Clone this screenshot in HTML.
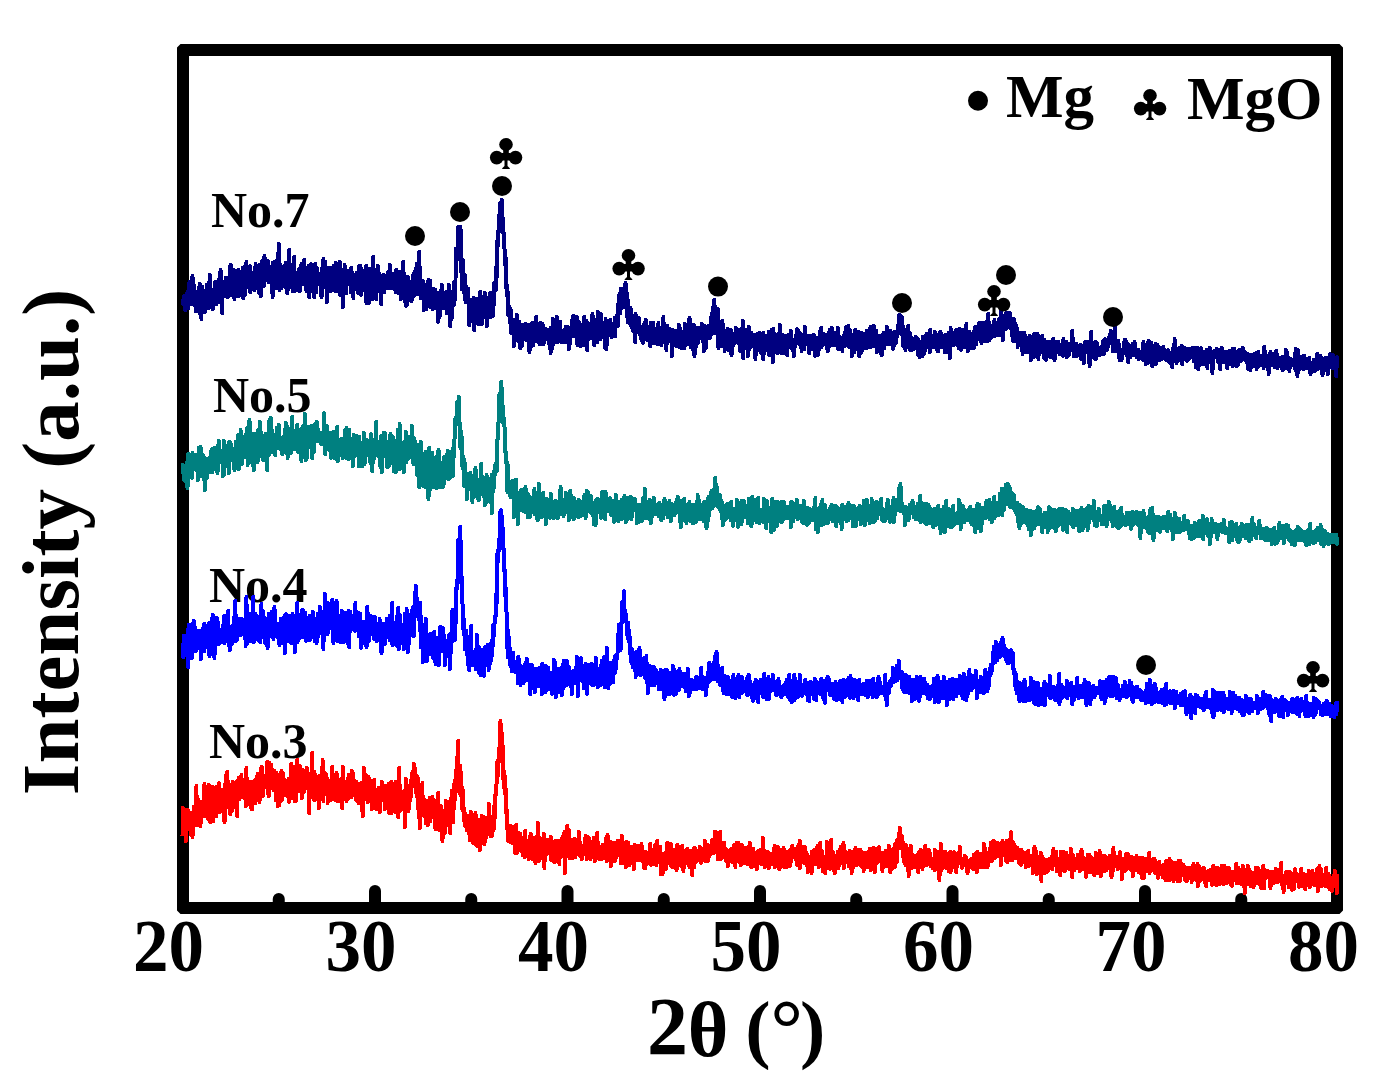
<!DOCTYPE html><html><head><meta charset="utf-8"><style>html,body{margin:0;padding:0;background:#fff;overflow:hidden}svg{display:block}</style></head><body><svg width="1398" height="1087" viewBox="0 0 1398 1087"><rect width="1398" height="1087" fill="#fff"/><text x="211" y="227" font-family="Liberation Serif" font-weight="bold" font-size="50">No.7</text><text x="213" y="412" font-family="Liberation Serif" font-weight="bold" font-size="50">No.5</text><text x="209" y="602" font-family="Liberation Serif" font-weight="bold" font-size="50">No.4</text><text x="209" y="758" font-family="Liberation Serif" font-weight="bold" font-size="50">No.3</text><path fill-rule="evenodd" fill="#000" d="M180.5,44 L1339.5,44 L1343,47.5 L1343,910.5 L1339.5,914 L180.5,914 L177,910.5 L177,47.5 Z M189,56 L189,902 L1331,902 L1331,56 Z"/><line x1="278.75" y1="905" x2="278.75" y2="899" stroke="#000" stroke-width="12" stroke-linecap="round"/><line x1="375.0" y1="905" x2="375.0" y2="891" stroke="#000" stroke-width="12" stroke-linecap="round"/><line x1="471.25" y1="905" x2="471.25" y2="899" stroke="#000" stroke-width="12" stroke-linecap="round"/><line x1="567.5" y1="905" x2="567.5" y2="891" stroke="#000" stroke-width="12" stroke-linecap="round"/><line x1="663.75" y1="905" x2="663.75" y2="899" stroke="#000" stroke-width="12" stroke-linecap="round"/><line x1="760.0" y1="905" x2="760.0" y2="891" stroke="#000" stroke-width="12" stroke-linecap="round"/><line x1="856.25" y1="905" x2="856.25" y2="899" stroke="#000" stroke-width="12" stroke-linecap="round"/><line x1="952.5" y1="905" x2="952.5" y2="891" stroke="#000" stroke-width="12" stroke-linecap="round"/><line x1="1048.75" y1="905" x2="1048.75" y2="899" stroke="#000" stroke-width="12" stroke-linecap="round"/><line x1="1145.0" y1="905" x2="1145.0" y2="891" stroke="#000" stroke-width="12" stroke-linecap="round"/><line x1="1241.25" y1="905" x2="1241.25" y2="899" stroke="#000" stroke-width="12" stroke-linecap="round"/><polyline points="182.5,303 182.9,304 183.3,301 183.7,297 184.0,300 184.4,296 184.8,302 185.2,310 185.6,299 186.0,298 186.3,305 186.7,304 187.1,303 187.5,292 187.9,301 188.3,308 188.7,288 189.0,297 189.4,282 189.8,288 190.2,283 190.6,299 191.0,288 191.4,304 191.7,303 192.1,299 192.5,276 192.9,295 193.3,300 193.7,302 194.0,285 194.4,296 194.8,291 195.2,292 195.6,311 196.0,292 196.4,300 196.7,309 197.1,294 197.5,299 197.9,301 198.3,301 198.7,288 199.1,300 199.4,313 199.8,284 200.2,308 200.6,301 201.0,293 201.4,319 201.7,306 202.1,287 202.5,299 202.9,304 203.3,296 203.7,305 204.1,297 204.4,304 204.8,312 205.2,291 205.6,299 206.0,292 206.4,298 206.8,285 207.1,291 207.5,294 207.9,305 208.3,308 208.7,283 209.1,288 209.4,302 209.8,275 210.2,291 210.6,294 211.0,307 211.4,302 211.8,291 212.1,291 212.5,292 212.9,309 213.3,290 213.7,291 214.1,297 214.5,292 214.8,291 215.2,282 215.6,293 216.0,288 216.4,304 216.8,299 217.1,292 217.5,299 217.9,289 218.3,302 218.7,292 219.1,297 219.5,278 219.8,295 220.2,274 220.6,270 221.0,288 221.4,281 221.8,292 222.2,313 222.5,282 222.9,284 223.3,292 223.7,294 224.1,288 224.5,287 224.8,296 225.2,294 225.6,278 226.0,288 226.4,289 226.8,278 227.2,291 227.5,279 227.9,297 228.3,289 228.7,288 229.1,281 229.5,286 229.9,267 230.2,275 230.6,290 231.0,265 231.4,295 231.8,269 232.2,293 232.5,277 232.9,293 233.3,287 233.7,270 234.1,298 234.5,299 234.9,284 235.2,282 235.6,283 236.0,274 236.4,295 236.8,278 237.2,283 237.6,276 237.9,277 238.3,270 238.7,296 239.1,281 239.5,292 239.9,283 240.2,275 240.6,279 241.0,276 241.4,282 241.8,278 242.2,279 242.6,268 242.9,273 243.3,298 243.7,274 244.1,270 244.5,284 244.9,295 245.3,266 245.6,278 246.0,274 246.4,262 246.8,287 247.2,279 247.6,280 247.9,272 248.3,284 248.7,273 249.1,277 249.5,267 249.9,266 250.3,292 250.6,273 251.0,281 251.4,278 251.8,274 252.2,273 252.6,284 253.0,275 253.3,277 253.7,278 254.1,290 254.5,285 254.9,282 255.3,272 255.6,264 256.0,287 256.4,288 256.8,276 257.2,283 257.6,286 258.0,286 258.3,287 258.7,273 259.1,293 259.5,265 259.9,286 260.3,283 260.7,286 261.0,296 261.4,292 261.8,266 262.2,261 262.6,286 263.0,267 263.3,277 263.7,286 264.1,261 264.5,256 264.9,280 265.3,278 265.7,275 266.0,278 266.4,269 266.8,262 267.2,275 267.6,267 268.0,261 268.4,282 268.7,276 269.1,281 269.5,267 269.9,270 270.3,267 270.7,268 271.0,279 271.4,269 271.8,280 272.2,280 272.6,297 273.0,263 273.4,286 273.7,276 274.1,277 274.5,262 274.9,272 275.3,284 275.7,276 276.1,277 276.4,274 276.8,288 277.2,276 277.6,254 278.0,269 278.4,257 278.7,244 279.1,271 279.5,290 279.9,277 280.3,265 280.7,267 281.1,288 281.4,278 281.8,277 282.2,276 282.6,276 283.0,284 283.4,282 283.8,278 284.1,266 284.5,281 284.9,269 285.3,287 285.7,263 286.1,274 286.4,276 286.8,263 287.2,293 287.6,290 288.0,271 288.4,283 288.8,279 289.1,250 289.5,278 289.9,275 290.3,276 290.7,265 291.1,273 291.5,274 291.8,287 292.2,279 292.6,275 293.0,291 293.4,270 293.8,271 294.1,257 294.5,291 294.9,285 295.3,284 295.7,282 296.1,276 296.5,277 296.8,273 297.2,273 297.6,276 298.0,290 298.4,281 298.8,274 299.2,269 299.5,269 299.9,291 300.3,280 300.7,276 301.1,272 301.5,264 301.8,275 302.2,284 302.6,271 303.0,273 303.4,273 303.8,277 304.2,260 304.5,273 304.9,267 305.3,285 305.7,268 306.1,282 306.5,291 306.9,273 307.2,270 307.6,278 308.0,276 308.4,266 308.8,281 309.2,297 309.5,274 309.9,274 310.3,266 310.7,280 311.1,264 311.5,266 311.9,290 312.2,268 312.6,288 313.0,292 313.4,280 313.8,283 314.2,297 314.6,275 314.9,271 315.3,264 315.7,278 316.1,292 316.5,287 316.9,268 317.2,269 317.6,273 318.0,281 318.4,276 318.8,280 319.2,281 319.6,275 319.9,278 320.3,280 320.7,277 321.1,283 321.5,297 321.9,284 322.3,279 322.6,262 323.0,282 323.4,259 323.8,265 324.2,287 324.6,286 324.9,277 325.3,262 325.7,275 326.1,272 326.5,285 326.9,302 327.3,281 327.6,272 328.0,268 328.4,279 328.8,278 329.2,268 329.6,281 330.0,268 330.3,291 330.7,290 331.1,291 331.5,275 331.9,285 332.3,279 332.6,276 333.0,277 333.4,267 333.8,266 334.2,288 334.6,278 335.0,283 335.3,291 335.7,263 336.1,273 336.5,282 336.9,285 337.3,277 337.7,291 338.0,283 338.4,269 338.8,272 339.2,289 339.6,286 340.0,262 340.3,295 340.7,287 341.1,295 341.5,278 341.9,279 342.3,270 342.7,307 343.0,280 343.4,298 343.8,275 344.2,284 344.6,265 345.0,278 345.4,292 345.7,270 346.1,293 346.5,286 346.9,272 347.3,277 347.7,278 348.0,282 348.4,277 348.8,274 349.2,280 349.6,272 350.0,270 350.4,282 350.7,292 351.1,268 351.5,283 351.9,276 352.3,273 352.7,292 353.1,278 353.4,298 353.8,275 354.2,287 354.6,281 355.0,276 355.4,289 355.7,282 356.1,289 356.5,283 356.9,273 357.3,282 357.7,284 358.1,293 358.4,274 358.8,283 359.2,266 359.6,290 360.0,273 360.4,266 360.8,283 361.1,295 361.5,269 361.9,273 362.3,276 362.7,273 363.1,288 363.4,276 363.8,277 364.2,290 364.6,276 365.0,288 365.4,274 365.8,272 366.1,266 366.5,303 366.9,281 367.3,287 367.7,284 368.1,286 368.5,285 368.8,303 369.2,274 369.6,269 370.0,274 370.4,271 370.8,292 371.1,293 371.5,275 371.9,271 372.3,281 372.7,299 373.1,257 373.5,290 373.8,274 374.2,295 374.6,274 375.0,282 375.4,270 375.8,275 376.2,299 376.5,293 376.9,281 377.3,276 377.7,266 378.1,281 378.5,285 378.8,284 379.2,284 379.6,274 380.0,285 380.4,285 380.8,298 381.2,304 381.5,284 381.9,278 382.3,285 382.7,279 383.1,278 383.5,285 383.9,275 384.2,292 384.6,285 385.0,288 385.4,284 385.8,278 386.2,276 386.5,283 386.9,280 387.3,288 387.7,286 388.1,272 388.5,287 388.9,273 389.2,280 389.6,283 390.0,265 390.4,287 390.8,288 391.2,285 391.6,282 391.9,283 392.3,277 392.7,284 393.1,281 393.5,287 393.9,274 394.2,289 394.6,288 395.0,285 395.4,282 395.8,292 396.2,270 396.6,291 396.9,289 397.3,289 397.7,291 398.1,280 398.5,284 398.9,293 399.3,291 399.6,289 400.0,272 400.4,292 400.8,299 401.2,297 401.6,290 401.9,272 402.3,297 402.7,286 403.1,262 403.5,292 403.9,273 404.3,275 404.6,282 405.0,301 405.4,285 405.8,291 406.2,306 406.6,305 407.0,288 407.3,287 407.7,277 408.1,282 408.5,294 408.9,293 409.3,291 409.6,300 410.0,282 410.4,289 410.8,297 411.2,296 411.6,301 412.0,294 412.3,287 412.7,294 413.1,280 413.5,274 413.9,296 414.3,289 414.7,292 415.0,272 415.4,285 415.8,282 416.2,279 416.6,264 417.0,282 417.3,294 417.7,288 418.1,277 418.5,281 418.9,288 419.3,252 419.7,278 420.0,285 420.4,287 420.8,298 421.2,293 421.6,286 422.0,287 422.4,293 422.7,281 423.1,288 423.5,298 423.9,310 424.3,289 424.7,291 425.0,294 425.4,306 425.8,293 426.2,309 426.6,285 427.0,293 427.4,293 427.7,303 428.1,306 428.5,280 428.9,286 429.3,299 429.7,289 430.1,281 430.4,307 430.8,302 431.2,302 431.6,292 432.0,307 432.4,295 432.7,309 433.1,289 433.5,289 433.9,300 434.3,291 434.7,305 435.1,301 435.4,290 435.8,300 436.2,296 436.6,308 437.0,293 437.4,295 437.8,312 438.1,322 438.5,320 438.9,301 439.3,303 439.7,316 440.1,299 440.4,291 440.8,302 441.2,306 441.6,293 442.0,285 442.4,287 442.8,308 443.1,294 443.5,300 443.9,304 444.3,308 444.7,299 445.1,307 445.5,293 445.8,298 446.2,292 446.6,313 447.0,302 447.4,294 447.8,298 448.1,299 448.5,309 448.9,285 449.3,291 449.7,297 450.1,326 450.5,310 450.8,298 451.2,306 451.6,319 452.0,295 452.4,292 452.8,306 453.2,297 453.5,297 453.9,283 454.3,304 454.7,299 455.1,284 455.5,281 455.8,249 456.2,271 456.6,258 457.0,260 457.4,258 457.8,244 458.2,227 458.5,246 458.9,234 459.3,238 459.7,237 460.1,243 460.5,227 460.9,267 461.2,262 461.6,276 462.0,289 462.4,274 462.8,260 463.2,273 463.5,274 463.9,284 464.3,293 464.7,275 465.1,300 465.5,284 465.9,302 466.2,300 466.6,299 467.0,302 467.4,298 467.8,298 468.2,289 468.6,305 468.9,323 469.3,325 469.7,319 470.1,313 470.5,300 470.9,321 471.2,307 471.6,307 472.0,305 472.4,309 472.8,304 473.2,307 473.6,298 473.9,305 474.3,330 474.7,308 475.1,307 475.5,314 475.9,316 476.3,299 476.6,307 477.0,318 477.4,312 477.8,311 478.2,324 478.6,303 478.9,311 479.3,305 479.7,324 480.1,292 480.5,304 480.9,306 481.3,317 481.6,316 482.0,324 482.4,297 482.8,318 483.2,309 483.6,305 484.0,316 484.3,303 484.7,293 485.1,308 485.5,298 485.9,306 486.3,315 486.6,315 487.0,326 487.4,310 487.8,298 488.2,305 488.6,303 489.0,301 489.3,315 489.7,305 490.1,293 490.5,317 490.9,309 491.3,312 491.7,309 492.0,313 492.4,307 492.8,316 493.2,307 493.6,305 494.0,303 494.3,283 494.7,291 495.1,287 495.5,287 495.9,268 496.3,289 496.7,269 497.0,251 497.4,240 497.8,246 498.2,240 498.6,227 499.0,228 499.4,214 499.7,220 500.1,203 500.5,207 500.9,215 501.3,231 501.7,200 502.0,209 502.4,211 502.8,232 503.2,222 503.6,235 504.0,247 504.4,246 504.7,254 505.1,265 505.5,257 505.9,269 506.3,284 506.7,294 507.1,296 507.4,286 507.8,301 508.2,315 508.6,315 509.0,312 509.4,307 509.7,322 510.1,313 510.5,309 510.9,313 511.3,333 511.7,324 512.1,332 512.4,320 512.8,332 513.2,320 513.6,324 514.0,346 514.4,333 514.8,323 515.1,326 515.5,330 515.9,338 516.3,324 516.7,315 517.1,327 517.4,330 517.8,331 518.2,341 518.6,333 519.0,337 519.4,322 519.8,338 520.1,348 520.5,338 520.9,334 521.3,333 521.7,346 522.1,325 522.5,331 522.8,336 523.2,338 523.6,329 524.0,335 524.4,330 524.8,334 525.1,332 525.5,324 525.9,333 526.3,340 526.7,325 527.1,331 527.5,338 527.8,325 528.2,335 528.6,325 529.0,342 529.4,352 529.8,349 530.2,332 530.5,339 530.9,334 531.3,334 531.7,346 532.1,323 532.5,342 532.8,333 533.2,345 533.6,335 534.0,328 534.4,336 534.8,340 535.2,334 535.5,338 535.9,330 536.3,317 536.7,341 537.1,340 537.5,335 537.9,335 538.2,342 538.6,331 539.0,329 539.4,333 539.8,344 540.2,323 540.5,344 540.9,329 541.3,326 541.7,344 542.1,334 542.5,324 542.9,332 543.2,342 543.6,344 544.0,331 544.4,338 544.8,340 545.2,329 545.6,337 545.9,334 546.3,330 546.7,331 547.1,335 547.5,335 547.9,330 548.2,331 548.6,343 549.0,336 549.4,342 549.8,344 550.2,339 550.6,353 550.9,328 551.3,341 551.7,332 552.1,349 552.5,348 552.9,319 553.3,327 553.6,340 554.0,341 554.4,340 554.8,334 555.2,338 555.6,339 555.9,334 556.3,342 556.7,317 557.1,339 557.5,326 557.9,342 558.3,332 558.6,327 559.0,337 559.4,327 559.8,327 560.2,322 560.6,334 561.0,338 561.3,342 561.7,333 562.1,342 562.5,334 562.9,333 563.3,338 563.6,342 564.0,331 564.4,332 564.8,332 565.2,334 565.6,327 566.0,342 566.3,330 566.7,337 567.1,327 567.5,336 567.9,336 568.3,330 568.7,349 569.0,336 569.4,347 569.8,341 570.2,328 570.6,330 571.0,337 571.3,334 571.7,334 572.1,331 572.5,319 572.9,331 573.3,316 573.7,336 574.0,327 574.4,327 574.8,331 575.2,335 575.6,322 576.0,319 576.4,325 576.7,317 577.1,325 577.5,345 577.9,325 578.3,338 578.7,322 579.0,335 579.4,330 579.8,332 580.2,337 580.6,346 581.0,334 581.4,333 581.7,325 582.1,337 582.5,330 582.9,339 583.3,332 583.7,345 584.1,317 584.4,330 584.8,339 585.2,329 585.6,326 586.0,330 586.4,321 586.7,333 587.1,350 587.5,341 587.9,323 588.3,325 588.7,329 589.1,339 589.4,325 589.8,326 590.2,338 590.6,338 591.0,329 591.4,323 591.8,320 592.1,326 592.5,314 592.9,337 593.3,326 593.7,335 594.1,345 594.4,340 594.8,322 595.2,338 595.6,340 596.0,325 596.4,324 596.8,330 597.1,319 597.5,342 597.9,312 598.3,322 598.7,329 599.1,329 599.5,332 599.8,332 600.2,329 600.6,339 601.0,314 601.4,330 601.8,325 602.1,331 602.5,332 602.9,323 603.3,325 603.7,336 604.1,333 604.5,325 604.8,346 605.2,348 605.6,319 606.0,332 606.4,349 606.8,336 607.2,332 607.5,328 607.9,326 608.3,328 608.7,326 609.1,335 609.5,327 609.8,326 610.2,320 610.6,329 611.0,323 611.4,328 611.8,337 612.2,332 612.5,332 612.9,331 613.3,329 613.7,327 614.1,325 614.5,333 614.9,318 615.2,336 615.6,325 616.0,318 616.4,319 616.8,317 617.2,322 617.5,314 617.9,326 618.3,310 618.7,297 619.1,306 619.5,294 619.9,307 620.2,313 620.6,307 621.0,289 621.4,291 621.8,308 622.2,295 622.6,290 622.9,297 623.3,307 623.7,297 624.1,288 624.5,290 624.9,293 625.2,285 625.6,283 626.0,294 626.4,289 626.8,298 627.2,302 627.6,322 627.9,300 628.3,308 628.7,310 629.1,317 629.5,323 629.9,314 630.3,313 630.6,308 631.0,315 631.4,327 631.8,325 632.2,318 632.6,324 632.9,327 633.3,331 633.7,324 634.1,327 634.5,316 634.9,321 635.3,342 635.6,314 636.0,328 636.4,332 636.8,328 637.2,325 637.6,331 638.0,331 638.3,331 638.7,318 639.1,331 639.5,325 639.9,328 640.3,334 640.6,337 641.0,339 641.4,329 641.8,339 642.2,341 642.6,341 643.0,343 643.3,332 643.7,331 644.1,339 644.5,323 644.9,334 645.3,329 645.7,330 646.0,320 646.4,327 646.8,333 647.2,340 647.6,340 648.0,333 648.3,332 648.7,327 649.1,336 649.5,332 649.9,338 650.3,346 650.7,333 651.0,323 651.4,327 651.8,323 652.2,325 652.6,343 653.0,335 653.4,323 653.7,339 654.1,343 654.5,331 654.9,329 655.3,332 655.7,336 656.0,339 656.4,343 656.8,343 657.2,343 657.6,344 658.0,339 658.4,323 658.7,333 659.1,337 659.5,332 659.9,341 660.3,332 660.7,328 661.1,345 661.4,339 661.8,336 662.2,341 662.6,342 663.0,337 663.4,317 663.7,330 664.1,331 664.5,328 664.9,336 665.3,343 665.7,331 666.1,327 666.4,350 666.8,332 667.2,326 667.6,337 668.0,338 668.4,330 668.8,341 669.1,332 669.5,329 669.9,336 670.3,341 670.7,331 671.1,338 671.4,335 671.8,356 672.2,330 672.6,345 673.0,335 673.4,334 673.8,341 674.1,342 674.5,345 674.9,338 675.3,331 675.7,332 676.1,339 676.5,340 676.8,346 677.2,339 677.6,343 678.0,346 678.4,337 678.8,325 679.1,327 679.5,326 679.9,347 680.3,330 680.7,345 681.1,340 681.5,348 681.8,343 682.2,335 682.6,335 683.0,337 683.4,337 683.8,332 684.2,336 684.5,348 684.9,324 685.3,338 685.7,330 686.1,338 686.5,342 686.8,336 687.2,342 687.6,325 688.0,344 688.4,332 688.8,341 689.2,338 689.5,318 689.9,331 690.3,338 690.7,347 691.1,338 691.5,338 691.9,327 692.2,347 692.6,349 693.0,337 693.4,335 693.8,325 694.2,343 694.5,356 694.9,342 695.3,346 695.7,340 696.1,330 696.5,346 696.9,328 697.2,335 697.6,339 698.0,343 698.4,340 698.8,339 699.2,331 699.6,328 699.9,337 700.3,332 700.7,328 701.1,328 701.5,333 701.9,324 702.2,327 702.6,325 703.0,338 703.4,340 703.8,351 704.2,326 704.6,332 704.9,343 705.3,335 705.7,334 706.1,348 706.5,334 706.9,328 707.3,327 707.6,338 708.0,338 708.4,326 708.8,328 709.2,338 709.6,338 709.9,329 710.3,337 710.7,335 711.1,317 711.5,326 711.9,330 712.3,321 712.6,308 713.0,319 713.4,324 713.8,328 714.2,300 714.6,333 715.0,306 715.3,321 715.7,324 716.1,324 716.5,320 716.9,312 717.3,327 717.6,320 718.0,309 718.4,348 718.8,335 719.2,344 719.6,326 720.0,344 720.3,345 720.7,346 721.1,335 721.5,328 721.9,335 722.3,321 722.7,325 723.0,338 723.4,331 723.8,336 724.2,337 724.6,351 725.0,347 725.3,338 725.7,346 726.1,333 726.5,336 726.9,345 727.3,330 727.7,336 728.0,329 728.4,339 728.8,350 729.2,333 729.6,340 730.0,333 730.4,331 730.7,330 731.1,349 731.5,355 731.9,342 732.3,334 732.7,344 733.0,337 733.4,345 733.8,341 734.2,341 734.6,343 735.0,335 735.4,336 735.7,328 736.1,336 736.5,330 736.9,338 737.3,333 737.7,340 738.1,343 738.4,330 738.8,334 739.2,333 739.6,345 740.0,351 740.4,345 740.7,337 741.1,350 741.5,329 741.9,350 742.3,335 742.7,321 743.1,358 743.4,351 743.8,333 744.2,341 744.6,339 745.0,341 745.4,330 745.8,335 746.1,343 746.5,342 746.9,348 747.3,341 747.7,356 748.1,335 748.4,342 748.8,327 749.2,332 749.6,349 750.0,334 750.4,344 750.8,340 751.1,333 751.5,338 751.9,337 752.3,337 752.7,346 753.1,345 753.5,337 753.8,335 754.2,343 754.6,340 755.0,348 755.4,359 755.8,346 756.1,341 756.5,340 756.9,335 757.3,335 757.7,334 758.1,338 758.5,338 758.8,346 759.2,338 759.6,340 760.0,333 760.4,352 760.8,344 761.2,353 761.5,346 761.9,351 762.3,340 762.7,346 763.1,359 763.5,333 763.8,349 764.2,353 764.6,344 765.0,346 765.4,350 765.8,337 766.2,344 766.5,336 766.9,337 767.3,337 767.7,341 768.1,343 768.5,345 768.9,332 769.2,355 769.6,350 770.0,347 770.4,339 770.8,341 771.2,345 771.5,345 771.9,330 772.3,347 772.7,362 773.1,329 773.5,349 773.9,344 774.2,341 774.6,351 775.0,334 775.4,343 775.8,352 776.2,341 776.6,339 776.9,343 777.3,339 777.7,353 778.1,336 778.5,348 778.9,334 779.2,347 779.6,342 780.0,325 780.4,342 780.8,335 781.2,339 781.6,353 781.9,335 782.3,335 782.7,352 783.1,343 783.5,353 783.9,344 784.3,336 784.6,342 785.0,351 785.4,349 785.8,342 786.2,343 786.6,341 786.9,338 787.3,355 787.7,342 788.1,335 788.5,339 788.9,347 789.3,347 789.6,341 790.0,338 790.4,342 790.8,331 791.2,333 791.6,348 792.0,339 792.3,345 792.7,350 793.1,346 793.5,342 793.9,356 794.3,347 794.6,340 795.0,347 795.4,345 795.8,336 796.2,343 796.6,341 797.0,329 797.3,341 797.7,340 798.1,339 798.5,331 798.9,340 799.3,342 799.7,343 800.0,334 800.4,346 800.8,334 801.2,341 801.6,351 802.0,337 802.3,339 802.7,349 803.1,339 803.5,340 803.9,343 804.3,349 804.7,327 805.0,336 805.4,335 805.8,335 806.2,336 806.6,336 807.0,344 807.4,336 807.7,343 808.1,345 808.5,337 808.9,343 809.3,353 809.7,344 810.0,338 810.4,341 810.8,336 811.2,344 811.6,348 812.0,336 812.4,340 812.7,349 813.1,339 813.5,343 813.9,335 814.3,336 814.7,338 815.1,356 815.4,339 815.8,338 816.2,338 816.6,341 817.0,346 817.4,343 817.7,355 818.1,343 818.5,351 818.9,344 819.3,346 819.7,332 820.1,341 820.4,341 820.8,340 821.2,328 821.6,347 822.0,339 822.4,339 822.8,340 823.1,340 823.5,344 823.9,334 824.3,336 824.7,344 825.1,343 825.4,339 825.8,338 826.2,336 826.6,341 827.0,349 827.4,335 827.8,351 828.1,347 828.5,339 828.9,347 829.3,332 829.7,330 830.1,333 830.5,339 830.8,339 831.2,338 831.6,342 832.0,328 832.4,345 832.8,332 833.1,337 833.5,339 833.9,334 834.3,333 834.7,335 835.1,341 835.5,345 835.8,345 836.2,335 836.6,336 837.0,336 837.4,344 837.8,328 838.2,349 838.5,338 838.9,336 839.3,344 839.7,348 840.1,344 840.5,348 840.8,342 841.2,349 841.6,349 842.0,341 842.4,351 842.8,342 843.2,342 843.5,336 843.9,340 844.3,346 844.7,333 845.1,346 845.5,344 845.9,343 846.2,327 846.6,341 847.0,345 847.4,336 847.8,342 848.2,326 848.5,346 848.9,337 849.3,347 849.7,330 850.1,346 850.5,340 850.9,346 851.2,335 851.6,337 852.0,356 852.4,336 852.8,337 853.2,339 853.6,335 853.9,349 854.3,352 854.7,337 855.1,330 855.5,349 855.9,348 856.2,346 856.6,349 857.0,336 857.4,340 857.8,332 858.2,332 858.6,347 858.9,337 859.3,356 859.7,342 860.1,337 860.5,346 860.9,353 861.3,344 861.6,333 862.0,343 862.4,350 862.8,338 863.2,336 863.6,348 863.9,342 864.3,334 864.7,339 865.1,336 865.5,343 865.9,342 866.3,348 866.6,346 867.0,331 867.4,344 867.8,347 868.2,344 868.6,347 869.0,337 869.3,335 869.7,347 870.1,334 870.5,327 870.9,347 871.3,336 871.6,339 872.0,332 872.4,333 872.8,334 873.2,339 873.6,343 874.0,326 874.3,346 874.7,333 875.1,334 875.5,345 875.9,340 876.3,331 876.7,352 877.0,335 877.4,342 877.8,342 878.2,350 878.6,338 879.0,347 879.3,336 879.7,348 880.1,336 880.5,338 880.9,353 881.3,343 881.7,341 882.0,355 882.4,343 882.8,335 883.2,345 883.6,333 884.0,348 884.4,348 884.7,337 885.1,337 885.5,342 885.9,340 886.3,334 886.7,344 887.0,327 887.4,338 887.8,338 888.2,338 888.6,342 889.0,332 889.4,344 889.7,339 890.1,336 890.5,331 890.9,332 891.3,342 891.7,334 892.1,340 892.4,346 892.8,346 893.2,349 893.6,337 894.0,332 894.4,345 894.7,340 895.1,344 895.5,336 895.9,343 896.3,339 896.7,337 897.1,334 897.4,331 897.8,328 898.2,325 898.6,327 899.0,315 899.4,328 899.8,315 900.1,322 900.5,316 900.9,317 901.3,334 901.7,321 902.1,317 902.4,324 902.8,328 903.2,346 903.6,335 904.0,341 904.4,330 904.8,340 905.1,342 905.5,350 905.9,335 906.3,343 906.7,342 907.1,334 907.5,340 907.8,339 908.2,326 908.6,344 909.0,344 909.4,338 909.8,333 910.1,350 910.5,343 910.9,348 911.3,350 911.7,338 912.1,347 912.5,340 912.8,341 913.2,341 913.6,342 914.0,349 914.4,343 914.8,341 915.2,341 915.5,344 915.9,337 916.3,339 916.7,342 917.1,339 917.5,342 917.8,339 918.2,355 918.6,351 919.0,346 919.4,343 919.8,357 920.2,345 920.5,342 920.9,345 921.3,345 921.7,352 922.1,343 922.5,356 922.9,337 923.2,347 923.6,337 924.0,354 924.4,341 924.8,342 925.2,348 925.5,350 925.9,336 926.3,340 926.7,334 927.1,343 927.5,342 927.9,340 928.2,338 928.6,340 929.0,338 929.4,346 929.8,352 930.2,330 930.6,342 930.9,340 931.3,345 931.7,336 932.1,341 932.5,336 932.9,347 933.2,343 933.6,341 934.0,344 934.4,341 934.8,332 935.2,346 935.6,344 935.9,341 936.3,348 936.7,349 937.1,335 937.5,337 937.9,351 938.3,351 938.6,337 939.0,335 939.4,338 939.8,339 940.2,332 940.6,342 940.9,334 941.3,334 941.7,347 942.1,337 942.5,341 942.9,345 943.3,346 943.6,339 944.0,342 944.4,336 944.8,352 945.2,345 945.6,335 946.0,341 946.3,346 946.7,344 947.1,352 947.5,350 947.9,338 948.3,341 948.6,333 949.0,343 949.4,342 949.8,358 950.2,341 950.6,328 951.0,337 951.3,341 951.7,333 952.1,335 952.5,338 952.9,343 953.3,340 953.7,335 954.0,345 954.4,337 954.8,337 955.2,332 955.6,336 956.0,344 956.3,330 956.7,340 957.1,345 957.5,338 957.9,342 958.3,333 958.7,348 959.0,347 959.4,341 959.8,329 960.2,333 960.6,346 961.0,350 961.4,342 961.7,347 962.1,336 962.5,338 962.9,340 963.3,342 963.7,330 964.0,345 964.4,347 964.8,332 965.2,331 965.6,341 966.0,335 966.4,324 966.7,344 967.1,340 967.5,336 967.9,351 968.3,339 968.7,334 969.1,339 969.4,332 969.8,333 970.2,340 970.6,334 971.0,335 971.4,348 971.7,343 972.1,342 972.5,340 972.9,340 973.3,346 973.7,336 974.1,348 974.4,330 974.8,334 975.2,327 975.6,333 976.0,338 976.4,344 976.8,331 977.1,335 977.5,332 977.9,329 978.3,326 978.7,334 979.1,323 979.4,334 979.8,333 980.2,328 980.6,326 981.0,323 981.4,343 981.8,323 982.1,341 982.5,335 982.9,328 983.3,323 983.7,337 984.1,341 984.5,324 984.8,328 985.2,336 985.6,331 986.0,341 986.4,325 986.8,332 987.1,321 987.5,341 987.9,323 988.3,314 988.7,327 989.1,327 989.5,340 989.8,326 990.2,328 990.6,331 991.0,338 991.4,327 991.8,334 992.2,331 992.5,326 992.9,329 993.3,329 993.7,323 994.1,336 994.5,320 994.8,336 995.2,335 995.6,329 996.0,324 996.4,328 996.8,332 997.2,334 997.5,331 997.9,335 998.3,326 998.7,330 999.1,319 999.5,333 999.9,329 1000.2,325 1000.6,335 1001.0,332 1001.4,309 1001.8,327 1002.2,317 1002.5,332 1002.9,340 1003.3,321 1003.7,324 1004.1,321 1004.5,324 1004.9,325 1005.2,329 1005.6,314 1006.0,329 1006.4,313 1006.8,320 1007.2,326 1007.6,323 1007.9,313 1008.3,314 1008.7,316 1009.1,319 1009.5,327 1009.9,313 1010.2,325 1010.6,327 1011.0,327 1011.4,328 1011.8,335 1012.2,330 1012.6,333 1012.9,332 1013.3,341 1013.7,319 1014.1,340 1014.5,331 1014.9,332 1015.3,329 1015.6,324 1016.0,334 1016.4,332 1016.8,340 1017.2,329 1017.6,347 1017.9,341 1018.3,338 1018.7,336 1019.1,335 1019.5,334 1019.9,338 1020.3,341 1020.6,340 1021.0,333 1021.4,340 1021.8,337 1022.2,343 1022.6,354 1023.0,346 1023.3,341 1023.7,333 1024.1,335 1024.5,333 1024.9,348 1025.3,339 1025.6,344 1026.0,340 1026.4,344 1026.8,352 1027.2,340 1027.6,342 1028.0,339 1028.3,349 1028.7,338 1029.1,338 1029.5,336 1029.9,336 1030.3,347 1030.7,360 1031.0,339 1031.4,351 1031.8,347 1032.2,339 1032.6,344 1033.0,344 1033.3,341 1033.7,357 1034.1,334 1034.5,348 1034.9,348 1035.3,342 1035.7,347 1036.0,351 1036.4,347 1036.8,348 1037.2,350 1037.6,334 1038.0,355 1038.4,359 1038.7,352 1039.1,352 1039.5,338 1039.9,346 1040.3,342 1040.7,343 1041.0,352 1041.4,342 1041.8,346 1042.2,336 1042.6,346 1043.0,347 1043.4,343 1043.7,343 1044.1,358 1044.5,340 1044.9,341 1045.3,343 1045.7,354 1046.1,360 1046.4,349 1046.8,343 1047.2,345 1047.6,354 1048.0,342 1048.4,356 1048.7,356 1049.1,348 1049.5,352 1049.9,352 1050.3,357 1050.7,342 1051.1,355 1051.4,346 1051.8,344 1052.2,349 1052.6,347 1053.0,342 1053.4,339 1053.8,343 1054.1,357 1054.5,360 1054.9,352 1055.3,355 1055.7,345 1056.1,348 1056.4,350 1056.8,342 1057.2,343 1057.6,349 1058.0,347 1058.4,342 1058.8,351 1059.1,347 1059.5,354 1059.9,349 1060.3,347 1060.7,349 1061.1,348 1061.5,345 1061.8,346 1062.2,353 1062.6,352 1063.0,356 1063.4,339 1063.8,347 1064.1,346 1064.5,350 1064.9,346 1065.3,346 1065.7,353 1066.1,350 1066.5,342 1066.8,357 1067.2,355 1067.6,346 1068.0,354 1068.4,345 1068.8,355 1069.2,348 1069.5,344 1069.9,347 1070.3,345 1070.7,350 1071.1,350 1071.5,349 1071.8,346 1072.2,331 1072.6,350 1073.0,338 1073.4,351 1073.8,356 1074.2,351 1074.5,347 1074.9,348 1075.3,349 1075.7,346 1076.1,346 1076.5,344 1076.9,356 1077.2,349 1077.6,355 1078.0,348 1078.4,350 1078.8,349 1079.2,352 1079.5,354 1079.9,351 1080.3,346 1080.7,345 1081.1,359 1081.5,348 1081.9,348 1082.2,358 1082.6,356 1083.0,353 1083.4,347 1083.8,363 1084.2,352 1084.6,353 1084.9,349 1085.3,342 1085.7,342 1086.1,352 1086.5,352 1086.9,349 1087.2,343 1087.6,342 1088.0,348 1088.4,342 1088.8,355 1089.2,356 1089.6,366 1089.9,355 1090.3,347 1090.7,345 1091.1,332 1091.5,347 1091.9,349 1092.3,355 1092.6,353 1093.0,353 1093.4,351 1093.8,354 1094.2,358 1094.6,344 1094.9,348 1095.3,342 1095.7,359 1096.1,357 1096.5,354 1096.9,343 1097.3,351 1097.6,349 1098.0,350 1098.4,349 1098.8,353 1099.2,348 1099.6,355 1100.0,351 1100.3,348 1100.7,349 1101.1,347 1101.5,354 1101.9,348 1102.3,351 1102.6,347 1103.0,341 1103.4,354 1103.8,343 1104.2,353 1104.6,351 1105.0,339 1105.3,343 1105.7,345 1106.1,342 1106.5,340 1106.9,350 1107.3,344 1107.7,347 1108.0,341 1108.4,344 1108.8,338 1109.2,341 1109.6,343 1110.0,339 1110.3,336 1110.7,331 1111.1,338 1111.5,338 1111.9,335 1112.3,332 1112.7,340 1113.0,351 1113.4,336 1113.8,341 1114.2,342 1114.6,326 1115.0,342 1115.4,339 1115.7,351 1116.1,343 1116.5,341 1116.9,345 1117.3,348 1117.7,344 1118.0,348 1118.4,341 1118.8,348 1119.2,353 1119.6,360 1120.0,354 1120.4,351 1120.7,357 1121.1,356 1121.5,360 1121.9,357 1122.3,350 1122.7,352 1123.1,352 1123.4,353 1123.8,352 1124.2,347 1124.6,340 1125.0,348 1125.4,340 1125.7,352 1126.1,351 1126.5,342 1126.9,355 1127.3,356 1127.7,352 1128.1,361 1128.4,362 1128.8,345 1129.2,357 1129.6,354 1130.0,354 1130.4,357 1130.8,348 1131.1,349 1131.5,348 1131.9,348 1132.3,352 1132.7,344 1133.1,346 1133.4,355 1133.8,352 1134.2,354 1134.6,342 1135.0,348 1135.4,349 1135.8,352 1136.1,349 1136.5,357 1136.9,352 1137.3,352 1137.7,352 1138.1,356 1138.5,350 1138.8,359 1139.2,355 1139.6,353 1140.0,353 1140.4,355 1140.8,358 1141.1,358 1141.5,355 1141.9,357 1142.3,353 1142.7,359 1143.1,353 1143.5,342 1143.8,360 1144.2,353 1144.6,347 1145.0,352 1145.4,348 1145.8,364 1146.2,356 1146.5,345 1146.9,356 1147.3,351 1147.7,363 1148.1,347 1148.5,341 1148.8,353 1149.2,351 1149.6,351 1150.0,342 1150.4,355 1150.8,362 1151.2,343 1151.5,359 1151.9,350 1152.3,366 1152.7,356 1153.1,352 1153.5,359 1153.9,356 1154.2,350 1154.6,357 1155.0,351 1155.4,344 1155.8,364 1156.2,352 1156.5,350 1156.9,355 1157.3,345 1157.7,346 1158.1,351 1158.5,351 1158.9,354 1159.2,360 1159.6,351 1160.0,356 1160.4,357 1160.8,348 1161.2,355 1161.6,349 1161.9,359 1162.3,356 1162.7,354 1163.1,347 1163.5,354 1163.9,350 1164.2,358 1164.6,353 1165.0,350 1165.4,359 1165.8,358 1166.2,351 1166.6,360 1166.9,352 1167.3,352 1167.7,355 1168.1,350 1168.5,352 1168.9,353 1169.3,362 1169.6,362 1170.0,353 1170.4,363 1170.8,354 1171.2,356 1171.6,359 1171.9,356 1172.3,367 1172.7,356 1173.1,348 1173.5,361 1173.9,352 1174.3,353 1174.6,339 1175.0,360 1175.4,359 1175.8,359 1176.2,360 1176.6,363 1177.0,354 1177.3,359 1177.7,351 1178.1,353 1178.5,360 1178.9,357 1179.3,348 1179.6,357 1180.0,354 1180.4,350 1180.8,357 1181.2,353 1181.6,346 1182.0,349 1182.3,364 1182.7,347 1183.1,356 1183.5,358 1183.9,358 1184.3,348 1184.7,353 1185.0,356 1185.4,359 1185.8,352 1186.2,349 1186.6,360 1187.0,361 1187.3,357 1187.7,352 1188.1,357 1188.5,356 1188.9,359 1189.3,349 1189.7,356 1190.0,354 1190.4,349 1190.8,356 1191.2,355 1191.6,353 1192.0,357 1192.4,348 1192.7,355 1193.1,358 1193.5,357 1193.9,361 1194.3,349 1194.7,348 1195.0,357 1195.4,358 1195.8,367 1196.2,359 1196.6,351 1197.0,360 1197.4,351 1197.7,348 1198.1,369 1198.5,357 1198.9,359 1199.3,359 1199.7,365 1200.1,357 1200.4,362 1200.8,350 1201.2,348 1201.6,363 1202.0,363 1202.4,358 1202.7,357 1203.1,357 1203.5,352 1203.9,364 1204.3,359 1204.7,359 1205.1,358 1205.4,362 1205.8,359 1206.2,360 1206.6,350 1207.0,359 1207.4,368 1207.8,354 1208.1,356 1208.5,361 1208.9,361 1209.3,360 1209.7,348 1210.1,359 1210.4,350 1210.8,352 1211.2,359 1211.6,355 1212.0,361 1212.4,373 1212.8,361 1213.1,360 1213.5,352 1213.9,353 1214.3,351 1214.7,354 1215.1,351 1215.5,353 1215.8,356 1216.2,352 1216.6,349 1217.0,350 1217.4,359 1217.8,357 1218.1,362 1218.5,362 1218.9,355 1219.3,361 1219.7,350 1220.1,369 1220.5,363 1220.8,356 1221.2,351 1221.6,359 1222.0,348 1222.4,353 1222.8,361 1223.2,358 1223.5,355 1223.9,362 1224.3,352 1224.7,359 1225.1,355 1225.5,353 1225.8,360 1226.2,352 1226.6,367 1227.0,355 1227.4,368 1227.8,352 1228.2,361 1228.5,352 1228.9,351 1229.3,359 1229.7,361 1230.1,351 1230.5,364 1230.9,354 1231.2,359 1231.6,360 1232.0,361 1232.4,349 1232.8,366 1233.2,361 1233.5,356 1233.9,353 1234.3,349 1234.7,351 1235.1,361 1235.5,356 1235.9,352 1236.2,356 1236.6,366 1237.0,357 1237.4,355 1237.8,365 1238.2,361 1238.6,359 1238.9,355 1239.3,350 1239.7,352 1240.1,356 1240.5,357 1240.9,360 1241.2,361 1241.6,360 1242.0,360 1242.4,354 1242.8,348 1243.2,356 1243.6,354 1243.9,355 1244.3,357 1244.7,352 1245.1,353 1245.5,358 1245.9,360 1246.3,356 1246.6,362 1247.0,358 1247.4,354 1247.8,359 1248.2,369 1248.6,356 1248.9,365 1249.3,366 1249.7,367 1250.1,355 1250.5,370 1250.9,360 1251.3,358 1251.6,358 1252.0,363 1252.4,360 1252.8,359 1253.2,366 1253.6,356 1254.0,354 1254.3,364 1254.7,363 1255.1,365 1255.5,354 1255.9,365 1256.3,362 1256.6,369 1257.0,353 1257.4,361 1257.8,358 1258.2,352 1258.6,356 1259.0,366 1259.3,358 1259.7,356 1260.1,364 1260.5,365 1260.9,365 1261.3,356 1261.7,360 1262.0,365 1262.4,357 1262.8,356 1263.2,364 1263.6,368 1264.0,354 1264.3,347 1264.7,353 1265.1,355 1265.5,360 1265.9,364 1266.3,360 1266.7,357 1267.0,361 1267.4,356 1267.8,360 1268.2,357 1268.6,374 1269.0,365 1269.4,356 1269.7,356 1270.1,358 1270.5,352 1270.9,357 1271.3,357 1271.7,365 1272.0,359 1272.4,357 1272.8,354 1273.2,355 1273.6,361 1274.0,360 1274.4,367 1274.7,358 1275.1,366 1275.5,362 1275.9,361 1276.3,351 1276.7,355 1277.1,365 1277.4,368 1277.8,362 1278.2,365 1278.6,359 1279.0,359 1279.4,358 1279.7,366 1280.1,363 1280.5,360 1280.9,360 1281.3,364 1281.7,363 1282.1,357 1282.4,370 1282.8,363 1283.2,362 1283.6,369 1284.0,367 1284.4,361 1284.8,365 1285.1,356 1285.5,359 1285.9,350 1286.3,368 1286.7,352 1287.1,365 1287.4,358 1287.8,357 1288.2,361 1288.6,363 1289.0,365 1289.4,371 1289.8,364 1290.1,367 1290.5,359 1290.9,366 1291.3,363 1291.7,360 1292.1,362 1292.5,362 1292.8,363 1293.2,364 1293.6,360 1294.0,359 1294.4,366 1294.8,354 1295.1,359 1295.5,370 1295.9,349 1296.3,359 1296.7,366 1297.1,354 1297.5,376 1297.8,350 1298.2,370 1298.6,371 1299.0,367 1299.4,362 1299.8,365 1300.2,358 1300.5,367 1300.9,357 1301.3,362 1301.7,368 1302.1,357 1302.5,361 1302.8,364 1303.2,356 1303.6,369 1304.0,365 1304.4,356 1304.8,363 1305.2,359 1305.5,360 1305.9,364 1306.3,360 1306.7,368 1307.1,360 1307.5,368 1307.9,363 1308.2,368 1308.6,361 1309.0,361 1309.4,358 1309.8,367 1310.2,368 1310.5,374 1310.9,370 1311.3,365 1311.7,363 1312.1,366 1312.5,364 1312.9,371 1313.2,369 1313.6,360 1314.0,361 1314.4,371 1314.8,366 1315.2,363 1315.6,370 1315.9,362 1316.3,363 1316.7,362 1317.1,354 1317.5,369 1317.9,358 1318.2,361 1318.6,361 1319.0,368 1319.4,364 1319.8,365 1320.2,356 1320.6,364 1320.9,357 1321.3,366 1321.7,366 1322.1,365 1322.5,375 1322.9,367 1323.3,368 1323.6,365 1324.0,364 1324.4,370 1324.8,370 1325.2,358 1325.6,370 1325.9,368 1326.3,370 1326.7,367 1327.1,359 1327.5,359 1327.9,374 1328.3,366 1328.6,358 1329.0,367 1329.4,363 1329.8,356 1330.2,354 1330.6,357 1331.0,367 1331.3,365 1331.7,364 1332.1,367 1332.5,368 1332.9,355 1333.3,364 1333.6,361 1334.0,359 1334.4,363 1334.8,365 1335.2,364 1335.6,358 1336.0,363 1336.3,376 1336.7,361 1337.1,357 1337.5,367" fill="none" stroke="#000080" stroke-width="4" stroke-linejoin="round" shape-rendering="crispEdges"/><polyline points="182.5,469 182.9,465 183.3,472 183.7,476 184.0,480 184.4,473 184.8,469 185.2,468 185.6,477 186.0,482 186.3,474 186.7,465 187.1,462 187.5,488 187.9,474 188.3,454 188.7,470 189.0,459 189.4,465 189.8,466 190.2,464 190.6,476 191.0,470 191.4,464 191.7,474 192.1,478 192.5,453 192.9,467 193.3,460 193.7,468 194.0,456 194.4,469 194.8,469 195.2,466 195.6,458 196.0,465 196.4,458 196.7,455 197.1,471 197.5,457 197.9,480 198.3,475 198.7,448 199.1,470 199.4,456 199.8,468 200.2,468 200.6,447 201.0,465 201.4,464 201.7,476 202.1,455 202.5,474 202.9,455 203.3,463 203.7,457 204.1,480 204.4,471 204.8,490 205.2,472 205.6,473 206.0,473 206.4,459 206.8,464 207.1,478 207.5,460 207.9,466 208.3,464 208.7,470 209.1,460 209.4,462 209.8,466 210.2,464 210.6,454 211.0,472 211.4,450 211.8,450 212.1,449 212.5,472 212.9,458 213.3,452 213.7,450 214.1,466 214.5,451 214.8,448 215.2,467 215.6,449 216.0,457 216.4,460 216.8,456 217.1,460 217.5,473 217.9,455 218.3,447 218.7,441 219.1,457 219.5,456 219.8,462 220.2,454 220.6,454 221.0,451 221.4,453 221.8,460 222.2,454 222.5,459 222.9,476 223.3,462 223.7,441 224.1,474 224.5,460 224.8,447 225.2,465 225.6,456 226.0,450 226.4,449 226.8,446 227.2,456 227.5,466 227.9,452 228.3,459 228.7,473 229.1,442 229.5,457 229.9,451 230.2,443 230.6,443 231.0,453 231.4,458 231.8,448 232.2,453 232.5,460 232.9,455 233.3,461 233.7,457 234.1,457 234.5,470 234.9,458 235.2,453 235.6,458 236.0,442 236.4,447 236.8,458 237.2,457 237.6,466 237.9,450 238.3,435 238.7,469 239.1,460 239.5,439 239.9,463 240.2,449 240.6,430 241.0,444 241.4,443 241.8,464 242.2,440 242.6,445 242.9,445 243.3,443 243.7,438 244.1,449 244.5,457 244.9,453 245.3,437 245.6,435 246.0,447 246.4,439 246.8,439 247.2,428 247.6,465 247.9,454 248.3,435 248.7,454 249.1,458 249.5,420 249.9,438 250.3,440 250.6,450 251.0,443 251.4,441 251.8,443 252.2,462 252.6,465 253.0,438 253.3,434 253.7,470 254.1,434 254.5,438 254.9,444 255.3,448 255.6,454 256.0,447 256.4,435 256.8,448 257.2,446 257.6,462 258.0,443 258.3,430 258.7,433 259.1,457 259.5,438 259.9,422 260.3,437 260.7,443 261.0,455 261.4,433 261.8,449 262.2,451 262.6,436 263.0,441 263.3,460 263.7,460 264.1,451 264.5,446 264.9,454 265.3,441 265.7,441 266.0,434 266.4,442 266.8,441 267.2,470 267.6,440 268.0,455 268.4,455 268.7,440 269.1,454 269.5,420 269.9,443 270.3,450 270.7,418 271.0,430 271.4,452 271.8,439 272.2,431 272.6,438 273.0,436 273.4,449 273.7,446 274.1,439 274.5,435 274.9,441 275.3,455 275.7,445 276.1,448 276.4,440 276.8,428 277.2,434 277.6,448 278.0,442 278.4,432 278.7,425 279.1,442 279.5,438 279.9,437 280.3,438 280.7,444 281.1,444 281.4,451 281.8,450 282.2,454 282.6,449 283.0,437 283.4,440 283.8,446 284.1,438 284.5,446 284.9,452 285.3,433 285.7,423 286.1,453 286.4,441 286.8,448 287.2,427 287.6,458 288.0,448 288.4,439 288.8,437 289.1,442 289.5,439 289.9,438 290.3,429 290.7,453 291.1,440 291.5,441 291.8,441 292.2,417 292.6,446 293.0,437 293.4,437 293.8,441 294.1,431 294.5,449 294.9,433 295.3,431 295.7,432 296.1,442 296.5,448 296.8,434 297.2,425 297.6,451 298.0,429 298.4,452 298.8,439 299.2,433 299.5,434 299.9,445 300.3,449 300.7,438 301.1,449 301.5,461 301.8,438 302.2,428 302.6,429 303.0,426 303.4,433 303.8,433 304.2,426 304.5,445 304.9,414 305.3,426 305.7,460 306.1,450 306.5,445 306.9,444 307.2,457 307.6,445 308.0,440 308.4,427 308.8,439 309.2,432 309.5,432 309.9,432 310.3,439 310.7,436 311.1,448 311.5,426 311.9,438 312.2,458 312.6,440 313.0,451 313.4,451 313.8,452 314.2,447 314.6,425 314.9,437 315.3,435 315.7,424 316.1,434 316.5,427 316.9,422 317.2,441 317.6,439 318.0,432 318.4,430 318.8,434 319.2,435 319.6,435 319.9,438 320.3,435 320.7,443 321.1,444 321.5,443 321.9,433 322.3,433 322.6,444 323.0,438 323.4,439 323.8,415 324.2,413 324.6,443 324.9,443 325.3,454 325.7,447 326.1,443 326.5,441 326.9,426 327.3,449 327.6,435 328.0,446 328.4,443 328.8,444 329.2,450 329.6,436 330.0,437 330.3,433 330.7,438 331.1,458 331.5,438 331.9,453 332.3,450 332.6,449 333.0,450 333.4,432 333.8,446 334.2,458 334.6,435 335.0,442 335.3,435 335.7,446 336.1,432 336.5,459 336.9,439 337.3,427 337.7,461 338.0,453 338.4,448 338.8,448 339.2,440 339.6,441 340.0,451 340.3,453 340.7,453 341.1,446 341.5,439 341.9,442 342.3,455 342.7,458 343.0,441 343.4,439 343.8,457 344.2,452 344.6,451 345.0,431 345.4,441 345.7,439 346.1,447 346.5,428 346.9,458 347.3,448 347.7,449 348.0,433 348.4,445 348.8,459 349.2,430 349.6,449 350.0,453 350.4,439 350.7,454 351.1,443 351.5,458 351.9,451 352.3,448 352.7,466 353.1,455 353.4,459 353.8,435 354.2,440 354.6,455 355.0,456 355.4,446 355.7,455 356.1,436 356.5,449 356.9,436 357.3,451 357.7,442 358.1,441 358.4,448 358.8,466 359.2,437 359.6,442 360.0,458 360.4,444 360.8,466 361.1,450 361.5,449 361.9,452 362.3,466 362.7,455 363.1,454 363.4,451 363.8,433 364.2,440 364.6,464 365.0,457 365.4,454 365.8,455 366.1,444 366.5,453 366.9,440 367.3,453 367.7,442 368.1,447 368.5,454 368.8,446 369.2,456 369.6,454 370.0,454 370.4,463 370.8,435 371.1,434 371.5,456 371.9,460 372.3,471 372.7,458 373.1,459 373.5,442 373.8,458 374.2,458 374.6,440 375.0,442 375.4,450 375.8,454 376.2,422 376.5,452 376.9,454 377.3,450 377.7,454 378.1,456 378.5,442 378.8,456 379.2,449 379.6,442 380.0,454 380.4,467 380.8,438 381.2,436 381.5,436 381.9,472 382.3,450 382.7,452 383.1,445 383.5,443 383.9,433 384.2,455 384.6,456 385.0,433 385.4,443 385.8,446 386.2,453 386.5,456 386.9,465 387.3,467 387.7,464 388.1,467 388.5,442 388.9,448 389.2,465 389.6,457 390.0,454 390.4,434 390.8,436 391.2,462 391.6,458 391.9,451 392.3,450 392.7,437 393.1,458 393.5,465 393.9,471 394.2,455 394.6,453 395.0,444 395.4,467 395.8,472 396.2,449 396.6,458 396.9,456 397.3,450 397.7,430 398.1,452 398.5,462 398.9,441 399.3,447 399.6,424 400.0,469 400.4,461 400.8,456 401.2,453 401.6,450 401.9,455 402.3,453 402.7,454 403.1,456 403.5,458 403.9,472 404.3,442 404.6,459 405.0,450 405.4,445 405.8,432 406.2,462 406.6,445 407.0,447 407.3,459 407.7,442 408.1,452 408.5,450 408.9,457 409.3,458 409.6,437 410.0,453 410.4,441 410.8,442 411.2,437 411.6,446 412.0,426 412.3,441 412.7,452 413.1,438 413.5,464 413.9,438 414.3,449 414.7,444 415.0,445 415.4,442 415.8,449 416.2,456 416.6,449 417.0,467 417.3,475 417.7,445 418.1,469 418.5,463 418.9,465 419.3,487 419.7,475 420.0,467 420.4,465 420.8,442 421.2,472 421.6,457 422.0,466 422.4,466 422.7,475 423.1,486 423.5,475 423.9,478 424.3,464 424.7,471 425.0,474 425.4,452 425.8,487 426.2,460 426.6,454 427.0,483 427.4,489 427.7,460 428.1,462 428.5,499 428.9,469 429.3,448 429.7,462 430.1,489 430.4,475 430.8,476 431.2,481 431.6,476 432.0,466 432.4,453 432.7,474 433.1,458 433.5,469 433.9,487 434.3,475 434.7,471 435.1,471 435.4,477 435.8,479 436.2,457 436.6,472 437.0,488 437.4,478 437.8,463 438.1,464 438.5,450 438.9,463 439.3,487 439.7,471 440.1,463 440.4,466 440.8,470 441.2,470 441.6,468 442.0,464 442.4,478 442.8,487 443.1,466 443.5,466 443.9,484 444.3,457 444.7,466 445.1,468 445.5,474 445.8,469 446.2,463 446.6,475 447.0,460 447.4,454 447.8,451 448.1,479 448.5,453 448.9,475 449.3,477 449.7,478 450.1,467 450.5,463 450.8,468 451.2,460 451.6,452 452.0,476 452.4,452 452.8,476 453.2,460 453.5,447 453.9,452 454.3,456 454.7,425 455.1,425 455.5,418 455.8,425 456.2,423 456.6,414 457.0,403 457.4,402 457.8,419 458.2,418 458.5,409 458.9,397 459.3,421 459.7,423 460.1,427 460.5,448 460.9,444 461.2,432 461.6,437 462.0,465 462.4,458 462.8,468 463.2,462 463.5,457 463.9,472 464.3,486 464.7,476 465.1,464 465.5,473 465.9,473 466.2,480 466.6,489 467.0,499 467.4,483 467.8,477 468.2,483 468.6,483 468.9,479 469.3,483 469.7,484 470.1,473 470.5,489 470.9,481 471.2,476 471.6,490 472.0,481 472.4,502 472.8,491 473.2,487 473.6,479 473.9,483 474.3,495 474.7,481 475.1,494 475.5,468 475.9,490 476.3,496 476.6,491 477.0,488 477.4,498 477.8,481 478.2,480 478.6,490 478.9,500 479.3,493 479.7,488 480.1,492 480.5,494 480.9,478 481.3,464 481.6,481 482.0,476 482.4,485 482.8,479 483.2,482 483.6,494 484.0,491 484.3,490 484.7,505 485.1,486 485.5,487 485.9,502 486.3,480 486.6,475 487.0,502 487.4,493 487.8,495 488.2,495 488.6,498 489.0,485 489.3,488 489.7,479 490.1,490 490.5,490 490.9,484 491.3,493 491.7,513 492.0,475 492.4,492 492.8,491 493.2,491 493.6,472 494.0,488 494.3,481 494.7,471 495.1,465 495.5,467 495.9,469 496.3,463 496.7,471 497.0,441 497.4,444 497.8,428 498.2,432 498.6,420 499.0,406 499.4,394 499.7,394 500.1,399 500.5,408 500.9,400 501.3,382 501.7,391 502.0,400 502.4,403 502.8,410 503.2,423 503.6,424 504.0,423 504.4,419 504.7,439 505.1,434 505.5,453 505.9,462 506.3,453 506.7,468 507.1,470 507.4,492 507.8,483 508.2,466 508.6,488 509.0,489 509.4,486 509.7,486 510.1,495 510.5,497 510.9,496 511.3,485 511.7,491 512.1,481 512.4,482 512.8,490 513.2,487 513.6,493 514.0,517 514.4,501 514.8,490 515.1,480 515.5,491 515.9,486 516.3,480 516.7,504 517.1,495 517.4,502 517.8,524 518.2,501 518.6,500 519.0,502 519.4,498 519.8,493 520.1,499 520.5,510 520.9,498 521.3,490 521.7,491 522.1,493 522.5,501 522.8,505 523.2,505 523.6,511 524.0,500 524.4,508 524.8,504 525.1,508 525.5,487 525.9,512 526.3,490 526.7,494 527.1,509 527.5,500 527.8,517 528.2,504 528.6,495 529.0,505 529.4,500 529.8,516 530.2,517 530.5,510 530.9,500 531.3,504 531.7,512 532.1,498 532.5,498 532.8,511 533.2,510 533.6,502 534.0,502 534.4,489 534.8,514 535.2,504 535.5,493 535.9,496 536.3,498 536.7,518 537.1,510 537.5,494 537.9,520 538.2,516 538.6,497 539.0,484 539.4,513 539.8,501 540.2,504 540.5,501 540.9,515 541.3,517 541.7,512 542.1,504 542.5,508 542.9,511 543.2,493 543.6,516 544.0,503 544.4,508 544.8,507 545.2,513 545.6,515 545.9,524 546.3,503 546.7,499 547.1,507 547.5,501 547.9,513 548.2,500 548.6,508 549.0,514 549.4,515 549.8,508 550.2,518 550.6,517 550.9,494 551.3,510 551.7,508 552.1,505 552.5,502 552.9,507 553.3,510 553.6,509 554.0,518 554.4,515 554.8,502 555.2,501 555.6,514 555.9,501 556.3,508 556.7,511 557.1,515 557.5,511 557.9,518 558.3,503 558.6,512 559.0,502 559.4,508 559.8,508 560.2,500 560.6,487 561.0,514 561.3,510 561.7,508 562.1,501 562.5,504 562.9,510 563.3,507 563.6,516 564.0,508 564.4,500 564.8,512 565.2,502 565.6,508 566.0,493 566.3,504 566.7,511 567.1,502 567.5,506 567.9,511 568.3,507 568.7,520 569.0,505 569.4,505 569.8,505 570.2,491 570.6,495 571.0,511 571.3,504 571.7,517 572.1,506 572.5,505 572.9,514 573.3,509 573.7,519 574.0,498 574.4,510 574.8,512 575.2,511 575.6,515 576.0,514 576.4,507 576.7,502 577.1,514 577.5,507 577.9,514 578.3,517 578.7,508 579.0,500 579.4,505 579.8,513 580.2,505 580.6,516 581.0,507 581.4,508 581.7,502 582.1,506 582.5,515 582.9,504 583.3,504 583.7,501 584.1,513 584.4,495 584.8,502 585.2,514 585.6,518 586.0,505 586.4,514 586.7,491 587.1,512 587.5,509 587.9,497 588.3,493 588.7,503 589.1,508 589.4,509 589.8,507 590.2,512 590.6,512 591.0,496 591.4,503 591.8,503 592.1,514 592.5,503 592.9,514 593.3,507 593.7,524 594.1,506 594.4,506 594.8,505 595.2,507 595.6,525 596.0,502 596.4,500 596.8,505 597.1,511 597.5,499 597.9,512 598.3,512 598.7,505 599.1,504 599.5,500 599.8,504 600.2,500 600.6,516 601.0,518 601.4,504 601.8,506 602.1,492 602.5,502 602.9,509 603.3,508 603.7,507 604.1,513 604.5,507 604.8,504 605.2,519 605.6,492 606.0,498 606.4,501 606.8,501 607.2,501 607.5,505 607.9,501 608.3,506 608.7,511 609.1,507 609.5,508 609.8,500 610.2,498 610.6,505 611.0,514 611.4,510 611.8,515 612.2,514 612.5,515 612.9,501 613.3,516 613.7,513 614.1,522 614.5,511 614.9,509 615.2,506 615.6,508 616.0,495 616.4,505 616.8,507 617.2,515 617.5,502 617.9,508 618.3,521 618.7,503 619.1,514 619.5,504 619.9,507 620.2,511 620.6,514 621.0,504 621.4,500 621.8,519 622.2,509 622.6,514 622.9,514 623.3,513 623.7,506 624.1,507 624.5,496 624.9,509 625.2,504 625.6,508 626.0,522 626.4,513 626.8,508 627.2,498 627.6,513 627.9,519 628.3,502 628.7,511 629.1,504 629.5,507 629.9,506 630.3,497 630.6,505 631.0,497 631.4,519 631.8,516 632.2,509 632.6,511 632.9,509 633.3,510 633.7,510 634.1,507 634.5,507 634.9,499 635.3,501 635.6,504 636.0,510 636.4,506 636.8,523 637.2,508 637.6,506 638.0,512 638.3,516 638.7,522 639.1,516 639.5,505 639.9,508 640.3,517 640.6,511 641.0,515 641.4,509 641.8,521 642.2,520 642.6,517 643.0,510 643.3,498 643.7,500 644.1,512 644.5,514 644.9,489 645.3,506 645.7,518 646.0,516 646.4,506 646.8,514 647.2,510 647.6,508 648.0,518 648.3,518 648.7,506 649.1,503 649.5,500 649.9,500 650.3,519 650.7,523 651.0,511 651.4,517 651.8,505 652.2,509 652.6,516 653.0,512 653.4,510 653.7,498 654.1,500 654.5,507 654.9,506 655.3,509 655.7,505 656.0,508 656.4,510 656.8,514 657.2,511 657.6,506 658.0,508 658.4,516 658.7,509 659.1,503 659.5,503 659.9,512 660.3,514 660.7,519 661.1,508 661.4,520 661.8,508 662.2,509 662.6,506 663.0,514 663.4,518 663.7,510 664.1,507 664.5,499 664.9,511 665.3,508 665.7,509 666.1,506 666.4,504 666.8,507 667.2,513 667.6,517 668.0,510 668.4,513 668.8,509 669.1,510 669.5,501 669.9,517 670.3,515 670.7,521 671.1,506 671.4,511 671.8,504 672.2,512 672.6,510 673.0,515 673.4,510 673.8,515 674.1,507 674.5,515 674.9,509 675.3,508 675.7,511 676.1,513 676.5,501 676.8,500 677.2,512 677.6,510 678.0,497 678.4,499 678.8,506 679.1,513 679.5,512 679.9,518 680.3,519 680.7,527 681.1,501 681.5,511 681.8,518 682.2,502 682.6,501 683.0,512 683.4,519 683.8,520 684.2,499 684.5,503 684.9,510 685.3,507 685.7,513 686.1,512 686.5,523 686.8,511 687.2,512 687.6,512 688.0,519 688.4,504 688.8,514 689.2,506 689.5,502 689.9,519 690.3,515 690.7,521 691.1,513 691.5,516 691.9,512 692.2,515 692.6,509 693.0,523 693.4,505 693.8,523 694.2,510 694.5,517 694.9,513 695.3,515 695.7,522 696.1,513 696.5,505 696.9,513 697.2,516 697.6,495 698.0,518 698.4,519 698.8,500 699.2,511 699.6,517 699.9,504 700.3,509 700.7,509 701.1,515 701.5,519 701.9,511 702.2,512 702.6,518 703.0,515 703.4,511 703.8,521 704.2,502 704.6,512 704.9,509 705.3,508 705.7,513 706.1,511 706.5,528 706.9,515 707.3,513 707.6,522 708.0,517 708.4,497 708.8,511 709.2,515 709.6,505 709.9,510 710.3,504 710.7,509 711.1,494 711.5,491 711.9,499 712.3,502 712.6,508 713.0,495 713.4,490 713.8,501 714.2,493 714.6,505 715.0,491 715.3,478 715.7,487 716.1,487 716.5,486 716.9,492 717.3,494 717.6,499 718.0,499 718.4,507 718.8,508 719.2,508 719.6,509 720.0,495 720.3,498 720.7,504 721.1,512 721.5,501 721.9,508 722.3,513 722.7,525 723.0,513 723.4,508 723.8,519 724.2,513 724.6,510 725.0,520 725.3,506 725.7,513 726.1,513 726.5,518 726.9,505 727.3,504 727.7,510 728.0,511 728.4,513 728.8,510 729.2,515 729.6,517 730.0,514 730.4,505 730.7,520 731.1,502 731.5,511 731.9,519 732.3,509 732.7,522 733.0,526 733.4,524 733.8,516 734.2,520 734.6,509 735.0,516 735.4,516 735.7,514 736.1,514 736.5,512 736.9,500 737.3,516 737.7,515 738.1,527 738.4,518 738.8,514 739.2,519 739.6,517 740.0,513 740.4,511 740.7,503 741.1,514 741.5,524 741.9,501 742.3,507 742.7,518 743.1,515 743.4,516 743.8,501 744.2,509 744.6,517 745.0,517 745.4,516 745.8,508 746.1,517 746.5,506 746.9,507 747.3,506 747.7,523 748.1,511 748.4,514 748.8,499 749.2,521 749.6,517 750.0,503 750.4,503 750.8,525 751.1,507 751.5,526 751.9,511 752.3,497 752.7,521 753.1,517 753.5,518 753.8,510 754.2,512 754.6,520 755.0,508 755.4,500 755.8,520 756.1,510 756.5,522 756.9,510 757.3,511 757.7,512 758.1,498 758.5,522 758.8,509 759.2,512 759.6,523 760.0,514 760.4,520 760.8,516 761.2,519 761.5,515 761.9,521 762.3,512 762.7,517 763.1,509 763.5,522 763.8,499 764.2,515 764.6,516 765.0,516 765.4,514 765.8,523 766.2,528 766.5,510 766.9,501 767.3,506 767.7,508 768.1,513 768.5,513 768.9,521 769.2,511 769.6,513 770.0,514 770.4,508 770.8,511 771.2,532 771.5,513 771.9,507 772.3,499 772.7,520 773.1,511 773.5,509 773.9,530 774.2,523 774.6,502 775.0,511 775.4,520 775.8,519 776.2,506 776.6,525 776.9,526 777.3,506 777.7,502 778.1,504 778.5,518 778.9,521 779.2,515 779.6,510 780.0,513 780.4,517 780.8,505 781.2,502 781.6,513 781.9,522 782.3,515 782.7,515 783.1,509 783.5,519 783.9,502 784.3,513 784.6,509 785.0,512 785.4,507 785.8,518 786.2,513 786.6,509 786.9,517 787.3,513 787.7,510 788.1,509 788.5,518 788.9,507 789.3,512 789.6,512 790.0,515 790.4,512 790.8,527 791.2,502 791.6,517 792.0,513 792.3,520 792.7,503 793.1,521 793.5,504 793.9,518 794.3,517 794.6,513 795.0,508 795.4,508 795.8,514 796.2,508 796.6,500 797.0,501 797.3,518 797.7,519 798.1,517 798.5,514 798.9,516 799.3,516 799.7,515 800.0,508 800.4,508 800.8,506 801.2,514 801.6,507 802.0,512 802.3,522 802.7,511 803.1,520 803.5,523 803.9,501 804.3,504 804.7,516 805.0,509 805.4,517 805.8,518 806.2,510 806.6,519 807.0,525 807.4,519 807.7,508 808.1,512 808.5,510 808.9,523 809.3,512 809.7,509 810.0,514 810.4,517 810.8,511 811.2,514 811.6,513 812.0,518 812.4,520 812.7,515 813.1,510 813.5,516 813.9,508 814.3,520 814.7,516 815.1,515 815.4,498 815.8,529 816.2,523 816.6,522 817.0,514 817.4,518 817.7,532 818.1,509 818.5,518 818.9,517 819.3,514 819.7,516 820.1,507 820.4,518 820.8,505 821.2,525 821.6,519 822.0,508 822.4,500 822.8,514 823.1,517 823.5,507 823.9,524 824.3,515 824.7,511 825.1,505 825.4,513 825.8,512 826.2,518 826.6,520 827.0,514 827.4,517 827.8,523 828.1,518 828.5,512 828.9,518 829.3,510 829.7,517 830.1,514 830.5,507 830.8,518 831.2,514 831.6,518 832.0,505 832.4,521 832.8,521 833.1,511 833.5,513 833.9,514 834.3,513 834.7,519 835.1,509 835.5,506 835.8,512 836.2,526 836.6,511 837.0,507 837.4,508 837.8,514 838.2,521 838.5,509 838.9,514 839.3,515 839.7,516 840.1,514 840.5,520 840.8,518 841.2,509 841.6,529 842.0,505 842.4,505 842.8,520 843.2,514 843.5,512 843.9,515 844.3,518 844.7,511 845.1,509 845.5,507 845.9,508 846.2,508 846.6,521 847.0,515 847.4,517 847.8,510 848.2,520 848.5,503 848.9,516 849.3,518 849.7,509 850.1,507 850.5,516 850.9,509 851.2,507 851.6,513 852.0,506 852.4,512 852.8,526 853.2,510 853.6,519 853.9,506 854.3,513 854.7,511 855.1,512 855.5,518 855.9,526 856.2,512 856.6,521 857.0,515 857.4,517 857.8,510 858.2,508 858.6,511 858.9,508 859.3,513 859.7,506 860.1,513 860.5,514 860.9,524 861.3,523 861.6,516 862.0,509 862.4,516 862.8,518 863.2,511 863.6,507 863.9,501 864.3,512 864.7,525 865.1,511 865.5,515 865.9,515 866.3,515 866.6,517 867.0,500 867.4,511 867.8,515 868.2,512 868.6,520 869.0,510 869.3,518 869.7,523 870.1,511 870.5,512 870.9,510 871.3,517 871.6,499 872.0,503 872.4,510 872.8,518 873.2,516 873.6,507 874.0,522 874.3,513 874.7,508 875.1,515 875.5,520 875.9,512 876.3,502 876.7,508 877.0,513 877.4,518 877.8,506 878.2,514 878.6,504 879.0,512 879.3,503 879.7,509 880.1,502 880.5,506 880.9,502 881.3,499 881.7,519 882.0,519 882.4,515 882.8,509 883.2,521 883.6,510 884.0,514 884.4,519 884.7,513 885.1,521 885.5,511 885.9,510 886.3,512 886.7,504 887.0,505 887.4,516 887.8,500 888.2,518 888.6,513 889.0,519 889.4,516 889.7,515 890.1,522 890.5,511 890.9,510 891.3,518 891.7,507 892.1,518 892.4,515 892.8,507 893.2,502 893.6,498 894.0,522 894.4,500 894.7,502 895.1,515 895.5,512 895.9,509 896.3,508 896.7,504 897.1,500 897.4,501 897.8,508 898.2,510 898.6,510 899.0,502 899.4,487 899.8,504 900.1,500 900.5,484 900.9,511 901.3,504 901.7,503 902.1,506 902.4,506 902.8,508 903.2,508 903.6,508 904.0,512 904.4,511 904.8,525 905.1,511 905.5,507 905.9,507 906.3,513 906.7,512 907.1,513 907.5,510 907.8,511 908.2,517 908.6,520 909.0,514 909.4,511 909.8,505 910.1,505 910.5,513 910.9,511 911.3,512 911.7,506 912.1,512 912.5,501 912.8,505 913.2,508 913.6,517 914.0,509 914.4,507 914.8,515 915.2,512 915.5,519 915.9,515 916.3,515 916.7,512 917.1,517 917.5,509 917.8,504 918.2,519 918.6,511 919.0,514 919.4,518 919.8,520 920.2,496 920.5,507 920.9,522 921.3,503 921.7,517 922.1,512 922.5,509 922.9,513 923.2,504 923.6,517 924.0,522 924.4,506 924.8,510 925.2,522 925.5,517 925.9,513 926.3,524 926.7,504 927.1,513 927.5,516 927.9,513 928.2,520 928.6,505 929.0,515 929.4,510 929.8,523 930.2,522 930.6,511 930.9,509 931.3,515 931.7,510 932.1,512 932.5,518 932.9,513 933.2,527 933.6,516 934.0,513 934.4,509 934.8,513 935.2,523 935.6,520 935.9,525 936.3,524 936.7,520 937.1,512 937.5,516 937.9,517 938.3,506 938.6,519 939.0,510 939.4,516 939.8,514 940.2,520 940.6,533 940.9,510 941.3,517 941.7,529 942.1,511 942.5,515 942.9,516 943.3,519 943.6,507 944.0,519 944.4,521 944.8,532 945.2,516 945.6,513 946.0,518 946.3,501 946.7,519 947.1,526 947.5,516 947.9,516 948.3,515 948.6,518 949.0,509 949.4,526 949.8,514 950.2,514 950.6,527 951.0,517 951.3,514 951.7,527 952.1,518 952.5,522 952.9,513 953.3,506 953.7,518 954.0,525 954.4,514 954.8,519 955.2,521 955.6,518 956.0,517 956.3,521 956.7,518 957.1,513 957.5,523 957.9,521 958.3,519 958.7,521 959.0,500 959.4,518 959.8,517 960.2,504 960.6,529 961.0,519 961.4,514 961.7,514 962.1,518 962.5,516 962.9,506 963.3,514 963.7,519 964.0,520 964.4,522 964.8,510 965.2,512 965.6,519 966.0,513 966.4,518 966.7,511 967.1,520 967.5,517 967.9,520 968.3,516 968.7,511 969.1,509 969.4,516 969.8,512 970.2,507 970.6,513 971.0,521 971.4,524 971.7,521 972.1,524 972.5,514 972.9,515 973.3,510 973.7,511 974.1,526 974.4,519 974.8,520 975.2,532 975.6,528 976.0,511 976.4,522 976.8,511 977.1,522 977.5,504 977.9,510 978.3,510 978.7,528 979.1,505 979.4,523 979.8,522 980.2,516 980.6,521 981.0,531 981.4,517 981.8,514 982.1,524 982.5,520 982.9,508 983.3,517 983.7,517 984.1,508 984.5,509 984.8,511 985.2,508 985.6,518 986.0,517 986.4,501 986.8,512 987.1,516 987.5,507 987.9,513 988.3,516 988.7,504 989.1,513 989.5,500 989.8,519 990.2,510 990.6,505 991.0,503 991.4,504 991.8,522 992.2,508 992.5,510 992.9,511 993.3,504 993.7,518 994.1,497 994.5,518 994.8,508 995.2,512 995.6,513 996.0,516 996.4,503 996.8,514 997.2,510 997.5,509 997.9,507 998.3,515 998.7,511 999.1,515 999.5,513 999.9,494 1000.2,505 1000.6,511 1001.0,499 1001.4,493 1001.8,489 1002.2,515 1002.5,496 1002.9,502 1003.3,494 1003.7,502 1004.1,510 1004.5,490 1004.9,498 1005.2,493 1005.6,485 1006.0,491 1006.4,497 1006.8,504 1007.2,504 1007.6,495 1007.9,484 1008.3,499 1008.7,494 1009.1,494 1009.5,487 1009.9,493 1010.2,507 1010.6,504 1011.0,503 1011.4,499 1011.8,493 1012.2,497 1012.6,499 1012.9,501 1013.3,498 1013.7,495 1014.1,509 1014.5,501 1014.9,510 1015.3,504 1015.6,511 1016.0,511 1016.4,513 1016.8,514 1017.2,504 1017.6,503 1017.9,511 1018.3,522 1018.7,508 1019.1,508 1019.5,528 1019.9,505 1020.3,511 1020.6,513 1021.0,511 1021.4,512 1021.8,523 1022.2,517 1022.6,518 1023.0,507 1023.3,522 1023.7,518 1024.1,518 1024.5,522 1024.9,519 1025.3,517 1025.6,520 1026.0,513 1026.4,512 1026.8,510 1027.2,524 1027.6,514 1028.0,519 1028.3,525 1028.7,529 1029.1,516 1029.5,519 1029.9,519 1030.3,511 1030.7,516 1031.0,535 1031.4,518 1031.8,529 1032.2,523 1032.6,529 1033.0,527 1033.3,520 1033.7,512 1034.1,528 1034.5,523 1034.9,522 1035.3,525 1035.7,515 1036.0,520 1036.4,520 1036.8,511 1037.2,512 1037.6,519 1038.0,507 1038.4,524 1038.7,524 1039.1,519 1039.5,522 1039.9,509 1040.3,521 1040.7,524 1041.0,523 1041.4,526 1041.8,520 1042.2,532 1042.6,523 1043.0,525 1043.4,527 1043.7,516 1044.1,514 1044.5,525 1044.9,513 1045.3,517 1045.7,526 1046.1,514 1046.4,515 1046.8,513 1047.2,515 1047.6,532 1048.0,524 1048.4,527 1048.7,510 1049.1,507 1049.5,514 1049.9,527 1050.3,528 1050.7,509 1051.1,511 1051.4,525 1051.8,522 1052.2,523 1052.6,525 1053.0,515 1053.4,522 1053.8,519 1054.1,528 1054.5,519 1054.9,510 1055.3,528 1055.7,531 1056.1,526 1056.4,519 1056.8,515 1057.2,526 1057.6,517 1058.0,524 1058.4,525 1058.8,520 1059.1,509 1059.5,523 1059.9,515 1060.3,511 1060.7,520 1061.1,521 1061.5,520 1061.8,524 1062.2,509 1062.6,524 1063.0,530 1063.4,520 1063.8,517 1064.1,519 1064.5,527 1064.9,519 1065.3,516 1065.7,510 1066.1,528 1066.5,528 1066.8,520 1067.2,532 1067.6,518 1068.0,524 1068.4,512 1068.8,514 1069.2,520 1069.5,523 1069.9,523 1070.3,515 1070.7,517 1071.1,519 1071.5,518 1071.8,518 1072.2,524 1072.6,526 1073.0,509 1073.4,527 1073.8,521 1074.2,522 1074.5,522 1074.9,525 1075.3,524 1075.7,511 1076.1,525 1076.5,513 1076.9,522 1077.2,521 1077.6,511 1078.0,520 1078.4,518 1078.8,516 1079.2,531 1079.5,520 1079.9,517 1080.3,529 1080.7,519 1081.1,519 1081.5,508 1081.9,523 1082.2,525 1082.6,530 1083.0,513 1083.4,525 1083.8,527 1084.2,523 1084.6,519 1084.9,510 1085.3,520 1085.7,516 1086.1,509 1086.5,522 1086.9,518 1087.2,518 1087.6,530 1088.0,516 1088.4,507 1088.8,506 1089.2,522 1089.6,517 1089.9,514 1090.3,507 1090.7,514 1091.1,512 1091.5,518 1091.9,514 1092.3,513 1092.6,518 1093.0,514 1093.4,520 1093.8,501 1094.2,511 1094.6,525 1094.9,519 1095.3,512 1095.7,517 1096.1,515 1096.5,516 1096.9,526 1097.3,516 1097.6,519 1098.0,513 1098.4,514 1098.8,509 1099.2,514 1099.6,515 1100.0,516 1100.3,518 1100.7,518 1101.1,521 1101.5,516 1101.9,524 1102.3,520 1102.6,524 1103.0,516 1103.4,523 1103.8,516 1104.2,506 1104.6,515 1105.0,514 1105.3,506 1105.7,509 1106.1,510 1106.5,526 1106.9,514 1107.3,522 1107.7,517 1108.0,517 1108.4,515 1108.8,502 1109.2,517 1109.6,504 1110.0,512 1110.3,509 1110.7,519 1111.1,517 1111.5,521 1111.9,514 1112.3,512 1112.7,516 1113.0,526 1113.4,516 1113.8,514 1114.2,507 1114.6,511 1115.0,515 1115.4,519 1115.7,519 1116.1,516 1116.5,517 1116.9,525 1117.3,527 1117.7,524 1118.0,526 1118.4,525 1118.8,528 1119.2,511 1119.6,515 1120.0,519 1120.4,520 1120.7,526 1121.1,508 1121.5,519 1121.9,520 1122.3,515 1122.7,518 1123.1,524 1123.4,521 1123.8,518 1124.2,520 1124.6,518 1125.0,524 1125.4,519 1125.7,525 1126.1,516 1126.5,519 1126.9,513 1127.3,518 1127.7,524 1128.1,514 1128.4,518 1128.8,520 1129.2,518 1129.6,524 1130.0,513 1130.4,525 1130.8,527 1131.1,529 1131.5,520 1131.9,516 1132.3,512 1132.7,524 1133.1,525 1133.4,522 1133.8,522 1134.2,524 1134.6,519 1135.0,513 1135.4,513 1135.8,516 1136.1,516 1136.5,512 1136.9,518 1137.3,515 1137.7,524 1138.1,521 1138.5,525 1138.8,514 1139.2,515 1139.6,513 1140.0,523 1140.4,538 1140.8,522 1141.1,519 1141.5,522 1141.9,521 1142.3,527 1142.7,521 1143.1,517 1143.5,511 1143.8,524 1144.2,527 1144.6,523 1145.0,517 1145.4,519 1145.8,520 1146.2,525 1146.5,522 1146.9,528 1147.3,521 1147.7,519 1148.1,532 1148.5,517 1148.8,518 1149.2,533 1149.6,524 1150.0,532 1150.4,509 1150.8,529 1151.2,522 1151.5,523 1151.9,525 1152.3,508 1152.7,518 1153.1,525 1153.5,540 1153.9,519 1154.2,535 1154.6,526 1155.0,528 1155.4,518 1155.8,526 1156.2,518 1156.5,517 1156.9,530 1157.3,519 1157.7,521 1158.1,527 1158.5,519 1158.9,517 1159.2,525 1159.6,525 1160.0,532 1160.4,518 1160.8,527 1161.2,527 1161.6,521 1161.9,523 1162.3,524 1162.7,518 1163.1,517 1163.5,528 1163.9,518 1164.2,519 1164.6,528 1165.0,521 1165.4,522 1165.8,517 1166.2,518 1166.6,517 1166.9,517 1167.3,531 1167.7,519 1168.1,512 1168.5,518 1168.9,528 1169.3,518 1169.6,524 1170.0,519 1170.4,515 1170.8,522 1171.2,519 1171.6,525 1171.9,528 1172.3,524 1172.7,539 1173.1,519 1173.5,532 1173.9,527 1174.3,532 1174.6,528 1175.0,513 1175.4,523 1175.8,530 1176.2,525 1176.6,518 1177.0,522 1177.3,527 1177.7,532 1178.1,522 1178.5,526 1178.9,520 1179.3,519 1179.6,523 1180.0,532 1180.4,529 1180.8,524 1181.2,525 1181.6,528 1182.0,525 1182.3,523 1182.7,524 1183.1,529 1183.5,524 1183.9,530 1184.3,516 1184.7,522 1185.0,524 1185.4,529 1185.8,521 1186.2,523 1186.6,528 1187.0,525 1187.3,522 1187.7,524 1188.1,521 1188.5,530 1188.9,528 1189.3,531 1189.7,538 1190.0,533 1190.4,529 1190.8,526 1191.2,539 1191.6,528 1192.0,526 1192.4,534 1192.7,529 1193.1,526 1193.5,530 1193.9,538 1194.3,528 1194.7,530 1195.0,523 1195.4,525 1195.8,533 1196.2,527 1196.6,529 1197.0,534 1197.4,526 1197.7,536 1198.1,525 1198.5,524 1198.9,524 1199.3,521 1199.7,531 1200.1,529 1200.4,536 1200.8,525 1201.2,532 1201.6,536 1202.0,527 1202.4,528 1202.7,516 1203.1,539 1203.5,528 1203.9,532 1204.3,526 1204.7,530 1205.1,523 1205.4,533 1205.8,529 1206.2,527 1206.6,531 1207.0,519 1207.4,530 1207.8,527 1208.1,536 1208.5,533 1208.9,528 1209.3,527 1209.7,544 1210.1,524 1210.4,539 1210.8,534 1211.2,533 1211.6,519 1212.0,533 1212.4,526 1212.8,524 1213.1,532 1213.5,525 1213.9,532 1214.3,524 1214.7,532 1215.1,531 1215.5,525 1215.8,524 1216.2,526 1216.6,526 1217.0,526 1217.4,539 1217.8,531 1218.1,527 1218.5,528 1218.9,525 1219.3,531 1219.7,529 1220.1,526 1220.5,526 1220.8,527 1221.2,524 1221.6,530 1222.0,525 1222.4,532 1222.8,528 1223.2,532 1223.5,527 1223.9,520 1224.3,523 1224.7,528 1225.1,532 1225.5,532 1225.8,533 1226.2,533 1226.6,532 1227.0,532 1227.4,529 1227.8,533 1228.2,529 1228.5,530 1228.9,531 1229.3,542 1229.7,523 1230.1,528 1230.5,529 1230.9,532 1231.2,530 1231.6,539 1232.0,522 1232.4,540 1232.8,524 1233.2,527 1233.5,533 1233.9,531 1234.3,530 1234.7,531 1235.1,533 1235.5,536 1235.9,533 1236.2,524 1236.6,527 1237.0,538 1237.4,541 1237.8,536 1238.2,536 1238.6,532 1238.9,542 1239.3,528 1239.7,529 1240.1,527 1240.5,539 1240.9,528 1241.2,534 1241.6,524 1242.0,524 1242.4,536 1242.8,535 1243.2,536 1243.6,532 1243.9,530 1244.3,529 1244.7,526 1245.1,529 1245.5,538 1245.9,531 1246.3,525 1246.6,530 1247.0,527 1247.4,526 1247.8,531 1248.2,528 1248.6,525 1248.9,539 1249.3,541 1249.7,532 1250.1,539 1250.5,529 1250.9,532 1251.3,539 1251.6,533 1252.0,536 1252.4,518 1252.8,533 1253.2,530 1253.6,531 1254.0,524 1254.3,528 1254.7,535 1255.1,535 1255.5,536 1255.9,536 1256.3,538 1256.6,534 1257.0,531 1257.4,529 1257.8,530 1258.2,527 1258.6,527 1259.0,532 1259.3,521 1259.7,526 1260.1,528 1260.5,535 1260.9,538 1261.3,534 1261.7,532 1262.0,530 1262.4,538 1262.8,536 1263.2,529 1263.6,532 1264.0,535 1264.3,537 1264.7,531 1265.1,540 1265.5,539 1265.9,531 1266.3,532 1266.7,528 1267.0,528 1267.4,535 1267.8,540 1268.2,540 1268.6,534 1269.0,531 1269.4,530 1269.7,535 1270.1,531 1270.5,537 1270.9,533 1271.3,535 1271.7,531 1272.0,544 1272.4,539 1272.8,534 1273.2,529 1273.6,537 1274.0,538 1274.4,528 1274.7,534 1275.1,544 1275.5,535 1275.9,532 1276.3,537 1276.7,543 1277.1,532 1277.4,532 1277.8,533 1278.2,534 1278.6,540 1279.0,536 1279.4,523 1279.7,536 1280.1,536 1280.5,538 1280.9,536 1281.3,534 1281.7,537 1282.1,531 1282.4,526 1282.8,533 1283.2,529 1283.6,543 1284.0,534 1284.4,542 1284.8,528 1285.1,528 1285.5,537 1285.9,526 1286.3,531 1286.7,525 1287.1,537 1287.4,526 1287.8,534 1288.2,526 1288.6,537 1289.0,540 1289.4,535 1289.8,530 1290.1,537 1290.5,540 1290.9,539 1291.3,541 1291.7,544 1292.1,536 1292.5,533 1292.8,532 1293.2,535 1293.6,534 1294.0,532 1294.4,537 1294.8,545 1295.1,531 1295.5,533 1295.9,533 1296.3,530 1296.7,540 1297.1,534 1297.5,538 1297.8,527 1298.2,538 1298.6,534 1299.0,528 1299.4,540 1299.8,540 1300.2,536 1300.5,538 1300.9,530 1301.3,540 1301.7,534 1302.1,538 1302.5,538 1302.8,538 1303.2,532 1303.6,537 1304.0,536 1304.4,541 1304.8,532 1305.2,540 1305.5,538 1305.9,536 1306.3,545 1306.7,540 1307.1,533 1307.5,537 1307.9,532 1308.2,530 1308.6,533 1309.0,533 1309.4,544 1309.8,540 1310.2,524 1310.5,535 1310.9,532 1311.3,535 1311.7,537 1312.1,536 1312.5,538 1312.9,532 1313.2,543 1313.6,535 1314.0,542 1314.4,535 1314.8,538 1315.2,531 1315.6,542 1315.9,538 1316.3,534 1316.7,538 1317.1,538 1317.5,528 1317.9,532 1318.2,531 1318.6,540 1319.0,537 1319.4,533 1319.8,533 1320.2,536 1320.6,525 1320.9,535 1321.3,544 1321.7,529 1322.1,530 1322.5,531 1322.9,539 1323.3,533 1323.6,546 1324.0,535 1324.4,534 1324.8,531 1325.2,540 1325.6,542 1325.9,537 1326.3,543 1326.7,543 1327.1,538 1327.5,537 1327.9,534 1328.3,538 1328.6,535 1329.0,544 1329.4,541 1329.8,536 1330.2,535 1330.6,539 1331.0,542 1331.3,538 1331.7,542 1332.1,535 1332.5,538 1332.9,540 1333.3,538 1333.6,539 1334.0,542 1334.4,537 1334.8,542 1335.2,535 1335.6,540 1336.0,535 1336.3,535 1336.7,540 1337.1,544 1337.5,537" fill="none" stroke="#008080" stroke-width="4" stroke-linejoin="round" shape-rendering="crispEdges"/><polyline points="182.5,643 182.9,646 183.3,657 183.7,650 184.0,636 184.4,646 184.8,642 185.2,647 185.6,636 186.0,647 186.3,647 186.7,655 187.1,648 187.5,650 187.9,630 188.3,667 188.7,625 189.0,655 189.4,641 189.8,635 190.2,637 190.6,637 191.0,647 191.4,642 191.7,658 192.1,624 192.5,642 192.9,633 193.3,650 193.7,621 194.0,638 194.4,644 194.8,627 195.2,651 195.6,643 196.0,651 196.4,650 196.7,631 197.1,632 197.5,638 197.9,648 198.3,648 198.7,633 199.1,634 199.4,631 199.8,633 200.2,637 200.6,638 201.0,659 201.4,634 201.7,636 202.1,643 202.5,629 202.9,634 203.3,638 203.7,645 204.1,624 204.4,651 204.8,634 205.2,639 205.6,645 206.0,643 206.4,647 206.8,638 207.1,636 207.5,639 207.9,626 208.3,648 208.7,628 209.1,623 209.4,656 209.8,634 210.2,623 210.6,654 211.0,632 211.4,645 211.8,626 212.1,632 212.5,617 212.9,615 213.3,624 213.7,633 214.1,642 214.5,658 214.8,623 215.2,643 215.6,627 216.0,632 216.4,618 216.8,618 217.1,625 217.5,621 217.9,632 218.3,625 218.7,644 219.1,633 219.5,633 219.8,643 220.2,637 220.6,631 221.0,630 221.4,630 221.8,642 222.2,638 222.5,634 222.9,638 223.3,625 223.7,635 224.1,616 224.5,643 224.8,631 225.2,631 225.6,635 226.0,629 226.4,626 226.8,641 227.2,630 227.5,619 227.9,633 228.3,611 228.7,645 229.1,626 229.5,628 229.9,650 230.2,649 230.6,629 231.0,634 231.4,638 231.8,644 232.2,626 232.5,629 232.9,640 233.3,630 233.7,635 234.1,634 234.5,616 234.9,619 235.2,601 235.6,625 236.0,641 236.4,616 236.8,640 237.2,637 237.6,627 237.9,627 238.3,628 238.7,619 239.1,624 239.5,627 239.9,633 240.2,635 240.6,620 241.0,635 241.4,619 241.8,625 242.2,631 242.6,627 242.9,626 243.3,630 243.7,621 244.1,620 244.5,625 244.9,637 245.3,626 245.6,646 246.0,629 246.4,597 246.8,622 247.2,643 247.6,627 247.9,622 248.3,618 248.7,640 249.1,637 249.5,633 249.9,631 250.3,641 250.6,635 251.0,614 251.4,634 251.8,628 252.2,625 252.6,634 253.0,627 253.3,597 253.7,642 254.1,637 254.5,625 254.9,623 255.3,629 255.6,614 256.0,629 256.4,624 256.8,623 257.2,617 257.6,620 258.0,637 258.3,640 258.7,631 259.1,626 259.5,617 259.9,633 260.3,642 260.7,610 261.0,638 261.4,604 261.8,623 262.2,630 262.6,612 263.0,611 263.3,628 263.7,635 264.1,621 264.5,639 264.9,618 265.3,643 265.7,627 266.0,628 266.4,632 266.8,629 267.2,644 267.6,648 268.0,631 268.4,624 268.7,614 269.1,618 269.5,626 269.9,625 270.3,625 270.7,626 271.0,631 271.4,612 271.8,615 272.2,637 272.6,634 273.0,620 273.4,639 273.7,619 274.1,623 274.5,607 274.9,634 275.3,625 275.7,636 276.1,633 276.4,626 276.8,627 277.2,637 277.6,624 278.0,624 278.4,626 278.7,633 279.1,635 279.5,645 279.9,625 280.3,638 280.7,619 281.1,632 281.4,627 281.8,643 282.2,632 282.6,621 283.0,631 283.4,629 283.8,623 284.1,623 284.5,616 284.9,653 285.3,627 285.7,635 286.1,614 286.4,615 286.8,624 287.2,624 287.6,634 288.0,616 288.4,631 288.8,641 289.1,617 289.5,635 289.9,616 290.3,629 290.7,629 291.1,643 291.5,619 291.8,627 292.2,636 292.6,614 293.0,626 293.4,617 293.8,619 294.1,633 294.5,633 294.9,652 295.3,640 295.7,639 296.1,624 296.5,623 296.8,627 297.2,603 297.6,642 298.0,619 298.4,615 298.8,621 299.2,634 299.5,638 299.9,622 300.3,630 300.7,625 301.1,616 301.5,627 301.8,626 302.2,610 302.6,637 303.0,610 303.4,628 303.8,615 304.2,617 304.5,618 304.9,633 305.3,613 305.7,624 306.1,641 306.5,619 306.9,625 307.2,632 307.6,620 308.0,630 308.4,619 308.8,632 309.2,626 309.5,616 309.9,640 310.3,624 310.7,623 311.1,616 311.5,621 311.9,624 312.2,627 312.6,636 313.0,612 313.4,622 313.8,637 314.2,627 314.6,629 314.9,641 315.3,629 315.7,630 316.1,625 316.5,643 316.9,636 317.2,618 317.6,631 318.0,614 318.4,636 318.8,632 319.2,624 319.6,621 319.9,607 320.3,633 320.7,624 321.1,622 321.5,633 321.9,619 322.3,619 322.6,618 323.0,612 323.4,649 323.8,623 324.2,622 324.6,634 324.9,594 325.3,625 325.7,625 326.1,616 326.5,630 326.9,605 327.3,625 327.6,634 328.0,603 328.4,610 328.8,623 329.2,624 329.6,618 330.0,628 330.3,627 330.7,611 331.1,623 331.5,611 331.9,603 332.3,600 332.6,634 333.0,623 333.4,643 333.8,609 334.2,620 334.6,627 335.0,623 335.3,629 335.7,625 336.1,618 336.5,601 336.9,615 337.3,641 337.7,632 338.0,638 338.4,619 338.8,623 339.2,616 339.6,629 340.0,625 340.3,629 340.7,642 341.1,617 341.5,632 341.9,611 342.3,636 342.7,621 343.0,624 343.4,627 343.8,642 344.2,625 344.6,620 345.0,613 345.4,628 345.7,617 346.1,620 346.5,625 346.9,632 347.3,618 347.7,632 348.0,643 348.4,611 348.8,639 349.2,647 349.6,620 350.0,632 350.4,612 350.7,629 351.1,623 351.5,629 351.9,617 352.3,618 352.7,621 353.1,619 353.4,620 353.8,624 354.2,615 354.6,624 355.0,631 355.4,603 355.7,628 356.1,618 356.5,615 356.9,612 357.3,617 357.7,618 358.1,629 358.4,613 358.8,636 359.2,618 359.6,633 360.0,637 360.4,614 360.8,637 361.1,648 361.5,622 361.9,633 362.3,626 362.7,628 363.1,625 363.4,622 363.8,635 364.2,636 364.6,628 365.0,643 365.4,639 365.8,635 366.1,621 366.5,647 366.9,641 367.3,607 367.7,617 368.1,623 368.5,638 368.8,641 369.2,625 369.6,631 370.0,635 370.4,616 370.8,634 371.1,625 371.5,630 371.9,628 372.3,617 372.7,619 373.1,629 373.5,630 373.8,626 374.2,639 374.6,625 375.0,617 375.4,625 375.8,627 376.2,628 376.5,641 376.9,634 377.3,640 377.7,635 378.1,627 378.5,639 378.8,627 379.2,632 379.6,619 380.0,630 380.4,626 380.8,633 381.2,648 381.5,653 381.9,640 382.3,629 382.7,638 383.1,632 383.5,624 383.9,629 384.2,627 384.6,624 385.0,644 385.4,625 385.8,625 386.2,637 386.5,623 386.9,619 387.3,622 387.7,635 388.1,634 388.5,634 388.9,626 389.2,622 389.6,640 390.0,616 390.4,629 390.8,618 391.2,627 391.6,630 391.9,643 392.3,603 392.7,645 393.1,623 393.5,634 393.9,640 394.2,624 394.6,631 395.0,637 395.4,630 395.8,624 396.2,634 396.6,633 396.9,617 397.3,646 397.7,634 398.1,608 398.5,624 398.9,649 399.3,648 399.6,635 400.0,615 400.4,630 400.8,643 401.2,636 401.6,629 401.9,625 402.3,641 402.7,630 403.1,636 403.5,637 403.9,649 404.3,634 404.6,635 405.0,614 405.4,643 405.8,641 406.2,632 406.6,609 407.0,626 407.3,632 407.7,652 408.1,637 408.5,639 408.9,638 409.3,643 409.6,617 410.0,619 410.4,615 410.8,623 411.2,621 411.6,624 412.0,611 412.3,620 412.7,608 413.1,636 413.5,607 413.9,636 414.3,624 414.7,593 415.0,614 415.4,609 415.8,586 416.2,609 416.6,603 417.0,609 417.3,599 417.7,609 418.1,617 418.5,614 418.9,613 419.3,620 419.7,614 420.0,630 420.4,603 420.8,647 421.2,634 421.6,640 422.0,645 422.4,625 422.7,662 423.1,629 423.5,645 423.9,645 424.3,655 424.7,643 425.0,629 425.4,647 425.8,619 426.2,643 426.6,640 427.0,661 427.4,643 427.7,642 428.1,639 428.5,638 428.9,642 429.3,654 429.7,635 430.1,646 430.4,634 430.8,647 431.2,650 431.6,636 432.0,643 432.4,649 432.7,656 433.1,658 433.5,647 433.9,638 434.3,632 434.7,656 435.1,662 435.4,652 435.8,664 436.2,644 436.6,644 437.0,664 437.4,638 437.8,654 438.1,652 438.5,650 438.9,665 439.3,639 439.7,644 440.1,627 440.4,637 440.8,643 441.2,644 441.6,646 442.0,651 442.4,641 442.8,628 443.1,649 443.5,651 443.9,635 444.3,639 444.7,665 445.1,657 445.5,658 445.8,653 446.2,648 446.6,641 447.0,652 447.4,644 447.8,641 448.1,645 448.5,644 448.9,654 449.3,635 449.7,669 450.1,634 450.5,639 450.8,653 451.2,634 451.6,637 452.0,642 452.4,610 452.8,634 453.2,628 453.5,633 453.9,638 454.3,636 454.7,640 455.1,635 455.5,625 455.8,607 456.2,610 456.6,581 457.0,581 457.4,588 457.8,572 458.2,540 458.5,542 458.9,553 459.3,548 459.7,554 460.1,527 460.5,539 460.9,558 461.2,560 461.6,580 462.0,590 462.4,603 462.8,606 463.2,621 463.5,630 463.9,629 464.3,620 464.7,649 465.1,642 465.5,647 465.9,647 466.2,631 466.6,654 467.0,643 467.4,639 467.8,664 468.2,649 468.6,656 468.9,662 469.3,670 469.7,637 470.1,648 470.5,662 470.9,650 471.2,626 471.6,658 472.0,659 472.4,665 472.8,660 473.2,654 473.6,660 473.9,658 474.3,654 474.7,661 475.1,663 475.5,650 475.9,669 476.3,668 476.6,668 477.0,635 477.4,662 477.8,660 478.2,652 478.6,666 478.9,647 479.3,673 479.7,665 480.1,657 480.5,675 480.9,666 481.3,665 481.6,650 482.0,666 482.4,674 482.8,672 483.2,650 483.6,674 484.0,676 484.3,669 484.7,658 485.1,647 485.5,653 485.9,655 486.3,663 486.6,665 487.0,653 487.4,645 487.8,655 488.2,647 488.6,670 489.0,647 489.3,661 489.7,664 490.1,647 490.5,663 490.9,652 491.3,644 491.7,641 492.0,649 492.4,655 492.8,626 493.2,645 493.6,635 494.0,625 494.3,626 494.7,622 495.1,616 495.5,618 495.9,595 496.3,614 496.7,596 497.0,574 497.4,553 497.8,562 498.2,550 498.6,552 499.0,544 499.4,549 499.7,522 500.1,526 500.5,511 500.9,510 501.3,530 501.7,516 502.0,520 502.4,524 502.8,537 503.2,548 503.6,550 504.0,549 504.4,572 504.7,570 505.1,583 505.5,597 505.9,605 506.3,589 506.7,633 507.1,631 507.4,646 507.8,657 508.2,631 508.6,638 509.0,649 509.4,658 509.7,648 510.1,652 510.5,666 510.9,652 511.3,662 511.7,671 512.1,661 512.4,671 512.8,664 513.2,653 513.6,662 514.0,666 514.4,665 514.8,669 515.1,672 515.5,672 515.9,671 516.3,667 516.7,669 517.1,668 517.4,667 517.8,683 518.2,657 518.6,674 519.0,659 519.4,668 519.8,680 520.1,671 520.5,685 520.9,666 521.3,671 521.7,669 522.1,674 522.5,671 522.8,671 523.2,675 523.6,683 524.0,675 524.4,675 524.8,672 525.1,669 525.5,663 525.9,666 526.3,675 526.7,659 527.1,680 527.5,671 527.8,667 528.2,670 528.6,680 529.0,678 529.4,677 529.8,689 530.2,694 530.5,665 530.9,683 531.3,670 531.7,665 532.1,672 532.5,684 532.8,674 533.2,673 533.6,688 534.0,681 534.4,676 534.8,692 535.2,681 535.5,672 535.9,669 536.3,674 536.7,679 537.1,685 537.5,685 537.9,679 538.2,669 538.6,686 539.0,679 539.4,670 539.8,668 540.2,680 540.5,681 540.9,685 541.3,669 541.7,694 542.1,664 542.5,678 542.9,689 543.2,687 543.6,671 544.0,683 544.4,688 544.8,684 545.2,671 545.6,692 545.9,666 546.3,679 546.7,670 547.1,675 547.5,676 547.9,682 548.2,668 548.6,680 549.0,689 549.4,679 549.8,683 550.2,682 550.6,673 550.9,676 551.3,679 551.7,682 552.1,694 552.5,691 552.9,675 553.3,675 553.6,670 554.0,660 554.4,688 554.8,682 555.2,663 555.6,678 555.9,697 556.3,682 556.7,682 557.1,680 557.5,672 557.9,669 558.3,671 558.6,679 559.0,676 559.4,683 559.8,692 560.2,683 560.6,684 561.0,675 561.3,668 561.7,695 562.1,683 562.5,687 562.9,675 563.3,664 563.6,688 564.0,661 564.4,676 564.8,673 565.2,679 565.6,684 566.0,684 566.3,661 566.7,685 567.1,662 567.5,683 567.9,674 568.3,668 568.7,673 569.0,667 569.4,677 569.8,684 570.2,683 570.6,677 571.0,686 571.3,681 571.7,694 572.1,681 572.5,672 572.9,674 573.3,671 573.7,674 574.0,675 574.4,682 574.8,683 575.2,677 575.6,680 576.0,671 576.4,672 576.7,657 577.1,670 577.5,672 577.9,696 578.3,666 578.7,677 579.0,673 579.4,664 579.8,678 580.2,676 580.6,664 581.0,658 581.4,675 581.7,665 582.1,681 582.5,674 582.9,680 583.3,673 583.7,688 584.1,681 584.4,687 584.8,676 585.2,667 585.6,664 586.0,671 586.4,678 586.7,670 587.1,694 587.5,675 587.9,679 588.3,676 588.7,665 589.1,683 589.4,680 589.8,682 590.2,668 590.6,675 591.0,675 591.4,684 591.8,664 592.1,680 592.5,685 592.9,671 593.3,668 593.7,685 594.1,676 594.4,683 594.8,680 595.2,683 595.6,673 596.0,658 596.4,679 596.8,669 597.1,679 597.5,670 597.9,687 598.3,672 598.7,680 599.1,682 599.5,673 599.8,676 600.2,673 600.6,666 601.0,685 601.4,666 601.8,661 602.1,670 602.5,674 602.9,674 603.3,671 603.7,670 604.1,657 604.5,678 604.8,687 605.2,667 605.6,659 606.0,679 606.4,671 606.8,648 607.2,667 607.5,661 607.9,663 608.3,688 608.7,680 609.1,671 609.5,672 609.8,684 610.2,663 610.6,677 611.0,666 611.4,677 611.8,672 612.2,664 612.5,677 612.9,673 613.3,682 613.7,664 614.1,667 614.5,659 614.9,673 615.2,656 615.6,660 616.0,669 616.4,661 616.8,657 617.2,655 617.5,653 617.9,652 618.3,642 618.7,625 619.1,649 619.5,626 619.9,646 620.2,630 620.6,650 621.0,631 621.4,622 621.8,623 622.2,602 622.6,613 622.9,607 623.3,609 623.7,592 624.1,591 624.5,617 624.9,613 625.2,611 625.6,616 626.0,614 626.4,619 626.8,631 627.2,627 627.6,638 627.9,629 628.3,623 628.7,635 629.1,642 629.5,636 629.9,644 630.3,646 630.6,659 631.0,660 631.4,663 631.8,649 632.2,659 632.6,667 632.9,659 633.3,658 633.7,653 634.1,666 634.5,662 634.9,668 635.3,660 635.6,677 636.0,661 636.4,652 636.8,664 637.2,666 637.6,673 638.0,659 638.3,659 638.7,662 639.1,661 639.5,648 639.9,670 640.3,675 640.6,660 641.0,659 641.4,666 641.8,661 642.2,674 642.6,664 643.0,674 643.3,660 643.7,659 644.1,658 644.5,660 644.9,675 645.3,678 645.7,673 646.0,674 646.4,656 646.8,682 647.2,664 647.6,684 648.0,693 648.3,675 648.7,680 649.1,680 649.5,666 649.9,667 650.3,671 650.7,677 651.0,683 651.4,677 651.8,685 652.2,673 652.6,667 653.0,678 653.4,677 653.7,667 654.1,685 654.5,671 654.9,673 655.3,680 655.7,670 656.0,683 656.4,681 656.8,682 657.2,679 657.6,675 658.0,673 658.4,681 658.7,689 659.1,685 659.5,682 659.9,687 660.3,689 660.7,670 661.1,679 661.4,689 661.8,675 662.2,676 662.6,685 663.0,678 663.4,689 663.7,678 664.1,685 664.5,699 664.9,689 665.3,670 665.7,673 666.1,673 666.4,680 666.8,670 667.2,685 667.6,694 668.0,692 668.4,675 668.8,679 669.1,679 669.5,675 669.9,694 670.3,676 670.7,673 671.1,684 671.4,684 671.8,693 672.2,693 672.6,680 673.0,666 673.4,686 673.8,687 674.1,695 674.5,670 674.9,673 675.3,693 675.7,694 676.1,691 676.5,682 676.8,691 677.2,678 677.6,673 678.0,682 678.4,683 678.8,688 679.1,690 679.5,669 679.9,684 680.3,686 680.7,673 681.1,680 681.5,683 681.8,686 682.2,676 682.6,678 683.0,674 683.4,685 683.8,680 684.2,678 684.5,687 684.9,681 685.3,674 685.7,691 686.1,690 686.5,686 686.8,675 687.2,691 687.6,679 688.0,669 688.4,682 688.8,696 689.2,680 689.5,687 689.9,693 690.3,685 690.7,681 691.1,683 691.5,688 691.9,680 692.2,686 692.6,687 693.0,681 693.4,689 693.8,688 694.2,681 694.5,682 694.9,685 695.3,683 695.7,682 696.1,677 696.5,685 696.9,689 697.2,688 697.6,678 698.0,688 698.4,688 698.8,678 699.2,688 699.6,683 699.9,681 700.3,686 700.7,683 701.1,668 701.5,686 701.9,676 702.2,683 702.6,689 703.0,682 703.4,681 703.8,685 704.2,687 704.6,678 704.9,679 705.3,687 705.7,695 706.1,683 706.5,689 706.9,678 707.3,683 707.6,683 708.0,673 708.4,682 708.8,680 709.2,663 709.6,679 709.9,681 710.3,680 710.7,680 711.1,669 711.5,670 711.9,673 712.3,667 712.6,668 713.0,679 713.4,663 713.8,665 714.2,679 714.6,664 715.0,657 715.3,665 715.7,664 716.1,664 716.5,652 716.9,666 717.3,668 717.6,681 718.0,672 718.4,666 718.8,672 719.2,676 719.6,672 720.0,674 720.3,685 720.7,680 721.1,682 721.5,672 721.9,683 722.3,668 722.7,690 723.0,679 723.4,687 723.8,693 724.2,676 724.6,692 725.0,686 725.3,692 725.7,682 726.1,680 726.5,694 726.9,688 727.3,685 727.7,677 728.0,694 728.4,683 728.8,684 729.2,681 729.6,686 730.0,690 730.4,685 730.7,685 731.1,682 731.5,696 731.9,697 732.3,684 732.7,680 733.0,688 733.4,675 733.8,688 734.2,688 734.6,687 735.0,697 735.4,698 735.7,689 736.1,684 736.5,693 736.9,694 737.3,678 737.7,681 738.1,685 738.4,675 738.8,679 739.2,697 739.6,678 740.0,692 740.4,681 740.7,693 741.1,689 741.5,693 741.9,677 742.3,688 742.7,683 743.1,692 743.4,691 743.8,688 744.2,686 744.6,687 745.0,688 745.4,683 745.8,684 746.1,682 746.5,680 746.9,694 747.3,678 747.7,695 748.1,691 748.4,675 748.8,675 749.2,687 749.6,680 750.0,688 750.4,693 750.8,689 751.1,685 751.5,686 751.9,697 752.3,685 752.7,698 753.1,701 753.5,685 753.8,689 754.2,698 754.6,683 755.0,690 755.4,694 755.8,680 756.1,690 756.5,688 756.9,684 757.3,698 757.7,686 758.1,702 758.5,692 758.8,683 759.2,689 759.6,682 760.0,693 760.4,692 760.8,680 761.2,685 761.5,691 761.9,688 762.3,681 762.7,695 763.1,697 763.5,678 763.8,697 764.2,674 764.6,687 765.0,683 765.4,684 765.8,689 766.2,680 766.5,687 766.9,699 767.3,691 767.7,697 768.1,693 768.5,677 768.9,699 769.2,693 769.6,692 770.0,685 770.4,684 770.8,681 771.2,687 771.5,688 771.9,687 772.3,687 772.7,675 773.1,683 773.5,683 773.9,690 774.2,685 774.6,685 775.0,688 775.4,685 775.8,686 776.2,695 776.6,687 776.9,682 777.3,692 777.7,693 778.1,692 778.5,679 778.9,694 779.2,688 779.6,689 780.0,688 780.4,691 780.8,691 781.2,697 781.6,690 781.9,687 782.3,692 782.7,687 783.1,695 783.5,689 783.9,693 784.3,685 784.6,694 785.0,692 785.4,683 785.8,686 786.2,689 786.6,680 786.9,681 787.3,691 787.7,691 788.1,697 788.5,680 788.9,686 789.3,675 789.6,699 790.0,680 790.4,687 790.8,700 791.2,697 791.6,683 792.0,702 792.3,691 792.7,682 793.1,690 793.5,692 793.9,692 794.3,675 794.6,700 795.0,678 795.4,687 795.8,697 796.2,691 796.6,688 797.0,684 797.3,692 797.7,697 798.1,685 798.5,691 798.9,686 799.3,686 799.7,675 800.0,690 800.4,694 800.8,687 801.2,695 801.6,690 802.0,696 802.3,689 802.7,686 803.1,685 803.5,689 803.9,690 804.3,684 804.7,688 805.0,680 805.4,680 805.8,693 806.2,691 806.6,694 807.0,690 807.4,690 807.7,700 808.1,683 808.5,691 808.9,699 809.3,701 809.7,692 810.0,688 810.4,682 810.8,688 811.2,690 811.6,689 812.0,692 812.4,692 812.7,686 813.1,683 813.5,687 813.9,691 814.3,699 814.7,679 815.1,695 815.4,687 815.8,696 816.2,700 816.6,692 817.0,682 817.4,686 817.7,691 818.1,687 818.5,688 818.9,684 819.3,687 819.7,685 820.1,694 820.4,691 820.8,693 821.2,679 821.6,686 822.0,684 822.4,686 822.8,683 823.1,684 823.5,699 823.9,687 824.3,681 824.7,687 825.1,703 825.4,693 825.8,683 826.2,687 826.6,688 827.0,689 827.4,677 827.8,683 828.1,688 828.5,678 828.9,688 829.3,689 829.7,694 830.1,695 830.5,688 830.8,690 831.2,693 831.6,695 832.0,689 832.4,684 832.8,693 833.1,694 833.5,690 833.9,693 834.3,699 834.7,686 835.1,685 835.5,682 835.8,691 836.2,695 836.6,686 837.0,700 837.4,686 837.8,691 838.2,688 838.5,698 838.9,685 839.3,699 839.7,688 840.1,681 840.5,686 840.8,688 841.2,699 841.6,686 842.0,689 842.4,702 842.8,690 843.2,685 843.5,685 843.9,680 844.3,691 844.7,697 845.1,687 845.5,683 845.9,691 846.2,689 846.6,688 847.0,692 847.4,689 847.8,687 848.2,695 848.5,678 848.9,682 849.3,687 849.7,681 850.1,698 850.5,676 850.9,693 851.2,693 851.6,691 852.0,692 852.4,686 852.8,685 853.2,698 853.6,688 853.9,680 854.3,682 854.7,680 855.1,691 855.5,696 855.9,687 856.2,690 856.6,686 857.0,695 857.4,694 857.8,695 858.2,700 858.6,682 858.9,694 859.3,680 859.7,694 860.1,694 860.5,694 860.9,694 861.3,689 861.6,686 862.0,694 862.4,686 862.8,694 863.2,684 863.6,692 863.9,691 864.3,684 864.7,688 865.1,695 865.5,690 865.9,693 866.3,686 866.6,690 867.0,681 867.4,685 867.8,697 868.2,693 868.6,690 869.0,690 869.3,681 869.7,692 870.1,682 870.5,685 870.9,694 871.3,685 871.6,686 872.0,689 872.4,690 872.8,697 873.2,679 873.6,687 874.0,693 874.3,686 874.7,687 875.1,684 875.5,687 875.9,693 876.3,697 876.7,691 877.0,697 877.4,690 877.8,679 878.2,694 878.6,677 879.0,689 879.3,689 879.7,682 880.1,688 880.5,686 880.9,690 881.3,687 881.7,693 882.0,687 882.4,693 882.8,689 883.2,690 883.6,690 884.0,686 884.4,695 884.7,692 885.1,675 885.5,681 885.9,699 886.3,687 886.7,705 887.0,691 887.4,691 887.8,685 888.2,687 888.6,689 889.0,693 889.4,688 889.7,687 890.1,681 890.5,684 890.9,684 891.3,685 891.7,681 892.1,678 892.4,682 892.8,668 893.2,673 893.6,676 894.0,682 894.4,674 894.7,670 895.1,680 895.5,673 895.9,681 896.3,670 896.7,666 897.1,668 897.4,680 897.8,678 898.2,670 898.6,676 899.0,661 899.4,678 899.8,674 900.1,672 900.5,674 900.9,677 901.3,674 901.7,676 902.1,672 902.4,689 902.8,676 903.2,681 903.6,689 904.0,691 904.4,692 904.8,681 905.1,682 905.5,685 905.9,675 906.3,691 906.7,677 907.1,686 907.5,692 907.8,692 908.2,684 908.6,692 909.0,693 909.4,677 909.8,685 910.1,691 910.5,690 910.9,686 911.3,687 911.7,701 912.1,685 912.5,694 912.8,680 913.2,691 913.6,694 914.0,685 914.4,684 914.8,699 915.2,687 915.5,694 915.9,680 916.3,698 916.7,677 917.1,683 917.5,685 917.8,688 918.2,690 918.6,698 919.0,701 919.4,700 919.8,694 920.2,690 920.5,677 920.9,689 921.3,686 921.7,693 922.1,683 922.5,684 922.9,685 923.2,693 923.6,690 924.0,683 924.4,679 924.8,686 925.2,686 925.5,686 925.9,690 926.3,694 926.7,694 927.1,685 927.5,685 927.9,698 928.2,688 928.6,694 929.0,691 929.4,692 929.8,699 930.2,688 930.6,696 930.9,693 931.3,689 931.7,687 932.1,687 932.5,696 932.9,695 933.2,685 933.6,692 934.0,679 934.4,690 934.8,702 935.2,683 935.6,692 935.9,686 936.3,690 936.7,684 937.1,691 937.5,676 937.9,688 938.3,688 938.6,689 939.0,702 939.4,683 939.8,686 940.2,682 940.6,693 940.9,690 941.3,683 941.7,695 942.1,691 942.5,698 942.9,694 943.3,690 943.6,685 944.0,677 944.4,686 944.8,696 945.2,688 945.6,684 946.0,690 946.3,693 946.7,705 947.1,683 947.5,687 947.9,682 948.3,684 948.6,694 949.0,688 949.4,680 949.8,696 950.2,699 950.6,693 951.0,682 951.3,682 951.7,696 952.1,682 952.5,685 952.9,679 953.3,699 953.7,684 954.0,687 954.4,683 954.8,684 955.2,681 955.6,694 956.0,683 956.3,696 956.7,680 957.1,690 957.5,693 957.9,680 958.3,688 958.7,684 959.0,680 959.4,684 959.8,676 960.2,685 960.6,678 961.0,690 961.4,695 961.7,695 962.1,682 962.5,686 962.9,698 963.3,694 963.7,690 964.0,674 964.4,684 964.8,699 965.2,689 965.6,683 966.0,687 966.4,700 966.7,694 967.1,678 967.5,679 967.9,686 968.3,693 968.7,681 969.1,682 969.4,670 969.8,682 970.2,689 970.6,689 971.0,677 971.4,690 971.7,680 972.1,677 972.5,688 972.9,676 973.3,683 973.7,680 974.1,684 974.4,687 974.8,683 975.2,680 975.6,682 976.0,671 976.4,685 976.8,698 977.1,688 977.5,692 977.9,686 978.3,686 978.7,688 979.1,690 979.4,690 979.8,681 980.2,686 980.6,677 981.0,692 981.4,686 981.8,684 982.1,678 982.5,689 982.9,692 983.3,689 983.7,693 984.1,681 984.5,691 984.8,686 985.2,670 985.6,687 986.0,680 986.4,684 986.8,681 987.1,679 987.5,691 987.9,680 988.3,684 988.7,686 989.1,678 989.5,671 989.8,676 990.2,673 990.6,665 991.0,668 991.4,673 991.8,668 992.2,670 992.5,666 992.9,657 993.3,655 993.7,647 994.1,660 994.5,649 994.8,656 995.2,662 995.6,652 996.0,642 996.4,645 996.8,649 997.2,660 997.5,649 997.9,651 998.3,645 998.7,654 999.1,652 999.5,657 999.9,646 1000.2,656 1000.6,643 1001.0,648 1001.4,649 1001.8,651 1002.2,655 1002.5,638 1002.9,652 1003.3,650 1003.7,645 1004.1,651 1004.5,656 1004.9,651 1005.2,651 1005.6,658 1006.0,649 1006.4,661 1006.8,657 1007.2,658 1007.6,659 1007.9,663 1008.3,651 1008.7,663 1009.1,651 1009.5,659 1009.9,661 1010.2,658 1010.6,651 1011.0,650 1011.4,652 1011.8,659 1012.2,661 1012.6,665 1012.9,653 1013.3,666 1013.7,673 1014.1,669 1014.5,671 1014.9,678 1015.3,686 1015.6,687 1016.0,690 1016.4,675 1016.8,693 1017.2,684 1017.6,692 1017.9,684 1018.3,691 1018.7,686 1019.1,688 1019.5,701 1019.9,683 1020.3,696 1020.6,691 1021.0,684 1021.4,699 1021.8,691 1022.2,688 1022.6,693 1023.0,687 1023.3,701 1023.7,683 1024.1,689 1024.5,680 1024.9,693 1025.3,697 1025.6,698 1026.0,701 1026.4,692 1026.8,690 1027.2,698 1027.6,689 1028.0,695 1028.3,690 1028.7,689 1029.1,693 1029.5,700 1029.9,699 1030.3,694 1030.7,678 1031.0,693 1031.4,696 1031.8,697 1032.2,689 1032.6,699 1033.0,695 1033.3,682 1033.7,698 1034.1,703 1034.5,695 1034.9,689 1035.3,704 1035.7,699 1036.0,683 1036.4,700 1036.8,696 1037.2,695 1037.6,683 1038.0,684 1038.4,694 1038.7,705 1039.1,694 1039.5,694 1039.9,690 1040.3,691 1040.7,699 1041.0,689 1041.4,704 1041.8,696 1042.2,695 1042.6,692 1043.0,689 1043.4,692 1043.7,685 1044.1,693 1044.5,682 1044.9,705 1045.3,692 1045.7,684 1046.1,694 1046.4,693 1046.8,689 1047.2,694 1047.6,688 1048.0,692 1048.4,691 1048.7,695 1049.1,689 1049.5,694 1049.9,676 1050.3,698 1050.7,693 1051.1,695 1051.4,691 1051.8,697 1052.2,692 1052.6,694 1053.0,693 1053.4,689 1053.8,687 1054.1,695 1054.5,696 1054.9,692 1055.3,700 1055.7,693 1056.1,695 1056.4,699 1056.8,697 1057.2,691 1057.6,686 1058.0,688 1058.4,686 1058.8,697 1059.1,674 1059.5,704 1059.9,687 1060.3,699 1060.7,694 1061.1,695 1061.5,685 1061.8,698 1062.2,692 1062.6,696 1063.0,687 1063.4,692 1063.8,688 1064.1,694 1064.5,696 1064.9,691 1065.3,695 1065.7,695 1066.1,692 1066.5,691 1066.8,681 1067.2,698 1067.6,693 1068.0,691 1068.4,693 1068.8,689 1069.2,690 1069.5,695 1069.9,684 1070.3,690 1070.7,694 1071.1,683 1071.5,686 1071.8,699 1072.2,704 1072.6,694 1073.0,696 1073.4,687 1073.8,700 1074.2,692 1074.5,693 1074.9,694 1075.3,689 1075.7,688 1076.1,692 1076.5,686 1076.9,689 1077.2,678 1077.6,686 1078.0,695 1078.4,698 1078.8,695 1079.2,687 1079.5,692 1079.9,687 1080.3,686 1080.7,697 1081.1,690 1081.5,690 1081.9,693 1082.2,697 1082.6,693 1083.0,691 1083.4,694 1083.8,691 1084.2,690 1084.6,680 1084.9,687 1085.3,691 1085.7,686 1086.1,702 1086.5,705 1086.9,701 1087.2,687 1087.6,695 1088.0,694 1088.4,694 1088.8,683 1089.2,697 1089.6,701 1089.9,697 1090.3,704 1090.7,690 1091.1,696 1091.5,699 1091.9,687 1092.3,691 1092.6,688 1093.0,697 1093.4,686 1093.8,694 1094.2,689 1094.6,697 1094.9,689 1095.3,691 1095.7,693 1096.1,688 1096.5,690 1096.9,691 1097.3,689 1097.6,693 1098.0,688 1098.4,692 1098.8,690 1099.2,688 1099.6,685 1100.0,681 1100.3,687 1100.7,694 1101.1,689 1101.5,699 1101.9,685 1102.3,688 1102.6,682 1103.0,696 1103.4,682 1103.8,692 1104.2,691 1104.6,703 1105.0,696 1105.3,693 1105.7,689 1106.1,698 1106.5,686 1106.9,680 1107.3,692 1107.7,686 1108.0,682 1108.4,688 1108.8,688 1109.2,677 1109.6,690 1110.0,696 1110.3,683 1110.7,677 1111.1,687 1111.5,685 1111.9,690 1112.3,692 1112.7,686 1113.0,696 1113.4,677 1113.8,684 1114.2,690 1114.6,691 1115.0,689 1115.4,692 1115.7,683 1116.1,678 1116.5,695 1116.9,698 1117.3,691 1117.7,685 1118.0,687 1118.4,694 1118.8,692 1119.2,698 1119.6,700 1120.0,698 1120.4,690 1120.7,697 1121.1,694 1121.5,693 1121.9,693 1122.3,691 1122.7,686 1123.1,694 1123.4,688 1123.8,692 1124.2,696 1124.6,696 1125.0,682 1125.4,688 1125.7,686 1126.1,694 1126.5,688 1126.9,697 1127.3,690 1127.7,695 1128.1,687 1128.4,688 1128.8,691 1129.2,695 1129.6,681 1130.0,693 1130.4,685 1130.8,693 1131.1,683 1131.5,690 1131.9,699 1132.3,700 1132.7,687 1133.1,702 1133.4,690 1133.8,693 1134.2,695 1134.6,693 1135.0,695 1135.4,694 1135.8,697 1136.1,694 1136.5,690 1136.9,687 1137.3,687 1137.7,692 1138.1,697 1138.5,694 1138.8,691 1139.2,695 1139.6,690 1140.0,694 1140.4,695 1140.8,691 1141.1,700 1141.5,699 1141.9,692 1142.3,696 1142.7,694 1143.1,695 1143.5,695 1143.8,700 1144.2,695 1144.6,695 1145.0,698 1145.4,698 1145.8,703 1146.2,690 1146.5,697 1146.9,684 1147.3,694 1147.7,687 1148.1,687 1148.5,694 1148.8,689 1149.2,693 1149.6,680 1150.0,702 1150.4,681 1150.8,691 1151.2,703 1151.5,688 1151.9,704 1152.3,701 1152.7,695 1153.1,693 1153.5,694 1153.9,697 1154.2,700 1154.6,702 1155.0,684 1155.4,700 1155.8,699 1156.2,689 1156.5,700 1156.9,701 1157.3,700 1157.7,695 1158.1,700 1158.5,702 1158.9,693 1159.2,693 1159.6,693 1160.0,702 1160.4,696 1160.8,693 1161.2,691 1161.6,690 1161.9,698 1162.3,701 1162.7,703 1163.1,691 1163.5,692 1163.9,692 1164.2,692 1164.6,689 1165.0,705 1165.4,699 1165.8,694 1166.2,684 1166.6,704 1166.9,701 1167.3,698 1167.7,701 1168.1,694 1168.5,701 1168.9,695 1169.3,700 1169.6,697 1170.0,691 1170.4,692 1170.8,703 1171.2,703 1171.6,697 1171.9,694 1172.3,696 1172.7,700 1173.1,691 1173.5,703 1173.9,694 1174.3,692 1174.6,698 1175.0,708 1175.4,695 1175.8,696 1176.2,692 1176.6,700 1177.0,700 1177.3,699 1177.7,697 1178.1,701 1178.5,703 1178.9,697 1179.3,698 1179.6,696 1180.0,696 1180.4,705 1180.8,694 1181.2,700 1181.6,705 1182.0,697 1182.3,702 1182.7,703 1183.1,692 1183.5,705 1183.9,694 1184.3,700 1184.7,692 1185.0,691 1185.4,698 1185.8,708 1186.2,713 1186.6,714 1187.0,707 1187.3,706 1187.7,704 1188.1,704 1188.5,699 1188.9,698 1189.3,703 1189.7,703 1190.0,698 1190.4,695 1190.8,697 1191.2,718 1191.6,697 1192.0,709 1192.4,707 1192.7,707 1193.1,698 1193.5,712 1193.9,703 1194.3,698 1194.7,698 1195.0,701 1195.4,713 1195.8,695 1196.2,698 1196.6,702 1197.0,704 1197.4,696 1197.7,697 1198.1,699 1198.5,706 1198.9,701 1199.3,701 1199.7,703 1200.1,703 1200.4,707 1200.8,699 1201.2,702 1201.6,699 1202.0,706 1202.4,707 1202.7,701 1203.1,709 1203.5,701 1203.9,710 1204.3,701 1204.7,700 1205.1,695 1205.4,697 1205.8,701 1206.2,692 1206.6,702 1207.0,707 1207.4,705 1207.8,704 1208.1,706 1208.5,700 1208.9,700 1209.3,707 1209.7,702 1210.1,708 1210.4,700 1210.8,706 1211.2,709 1211.6,702 1212.0,712 1212.4,711 1212.8,690 1213.1,717 1213.5,694 1213.9,716 1214.3,698 1214.7,692 1215.1,696 1215.5,705 1215.8,698 1216.2,700 1216.6,709 1217.0,698 1217.4,705 1217.8,710 1218.1,693 1218.5,697 1218.9,704 1219.3,703 1219.7,704 1220.1,693 1220.5,699 1220.8,705 1221.2,706 1221.6,710 1222.0,701 1222.4,699 1222.8,698 1223.2,698 1223.5,693 1223.9,712 1224.3,701 1224.7,699 1225.1,700 1225.5,706 1225.8,704 1226.2,699 1226.6,708 1227.0,704 1227.4,702 1227.8,703 1228.2,709 1228.5,707 1228.9,703 1229.3,709 1229.7,692 1230.1,707 1230.5,699 1230.9,700 1231.2,702 1231.6,713 1232.0,702 1232.4,702 1232.8,706 1233.2,693 1233.5,702 1233.9,707 1234.3,698 1234.7,706 1235.1,699 1235.5,696 1235.9,708 1236.2,704 1236.6,707 1237.0,704 1237.4,698 1237.8,709 1238.2,706 1238.6,706 1238.9,702 1239.3,698 1239.7,711 1240.1,708 1240.5,705 1240.9,701 1241.2,711 1241.6,700 1242.0,700 1242.4,715 1242.8,707 1243.2,709 1243.6,708 1243.9,715 1244.3,706 1244.7,707 1245.1,700 1245.5,704 1245.9,696 1246.3,702 1246.6,704 1247.0,708 1247.4,711 1247.8,701 1248.2,699 1248.6,706 1248.9,700 1249.3,713 1249.7,711 1250.1,699 1250.5,705 1250.9,711 1251.3,700 1251.6,702 1252.0,704 1252.4,711 1252.8,707 1253.2,703 1253.6,706 1254.0,704 1254.3,705 1254.7,707 1255.1,705 1255.5,708 1255.9,704 1256.3,703 1256.6,703 1257.0,696 1257.4,702 1257.8,713 1258.2,704 1258.6,707 1259.0,709 1259.3,702 1259.7,702 1260.1,707 1260.5,699 1260.9,709 1261.3,708 1261.7,705 1262.0,706 1262.4,708 1262.8,705 1263.2,692 1263.6,707 1264.0,700 1264.3,702 1264.7,702 1265.1,702 1265.5,696 1265.9,695 1266.3,704 1266.7,705 1267.0,707 1267.4,698 1267.8,703 1268.2,709 1268.6,703 1269.0,702 1269.4,715 1269.7,696 1270.1,701 1270.5,699 1270.9,702 1271.3,721 1271.7,700 1272.0,703 1272.4,702 1272.8,701 1273.2,709 1273.6,703 1274.0,710 1274.4,712 1274.7,703 1275.1,712 1275.5,699 1275.9,707 1276.3,710 1276.7,700 1277.1,705 1277.4,708 1277.8,708 1278.2,707 1278.6,715 1279.0,705 1279.4,712 1279.7,716 1280.1,702 1280.5,703 1280.9,700 1281.3,709 1281.7,713 1282.1,697 1282.4,701 1282.8,703 1283.2,717 1283.6,704 1284.0,708 1284.4,700 1284.8,710 1285.1,701 1285.5,706 1285.9,701 1286.3,706 1286.7,705 1287.1,707 1287.4,707 1287.8,715 1288.2,703 1288.6,713 1289.0,708 1289.4,705 1289.8,708 1290.1,708 1290.5,711 1290.9,711 1291.3,710 1291.7,708 1292.1,699 1292.5,711 1292.8,712 1293.2,709 1293.6,708 1294.0,703 1294.4,708 1294.8,711 1295.1,700 1295.5,705 1295.9,704 1296.3,713 1296.7,705 1297.1,698 1297.5,708 1297.8,714 1298.2,706 1298.6,705 1299.0,708 1299.4,716 1299.8,706 1300.2,706 1300.5,709 1300.9,703 1301.3,699 1301.7,708 1302.1,705 1302.5,709 1302.8,708 1303.2,710 1303.6,702 1304.0,709 1304.4,703 1304.8,709 1305.2,705 1305.5,716 1305.9,703 1306.3,696 1306.7,708 1307.1,705 1307.5,703 1307.9,709 1308.2,716 1308.6,707 1309.0,704 1309.4,715 1309.8,713 1310.2,708 1310.5,705 1310.9,711 1311.3,704 1311.7,705 1312.1,704 1312.5,711 1312.9,715 1313.2,708 1313.6,717 1314.0,698 1314.4,708 1314.8,700 1315.2,713 1315.6,714 1315.9,699 1316.3,704 1316.7,708 1317.1,701 1317.5,704 1317.9,703 1318.2,708 1318.6,704 1319.0,702 1319.4,704 1319.8,707 1320.2,708 1320.6,707 1320.9,714 1321.3,706 1321.7,709 1322.1,711 1322.5,706 1322.9,715 1323.3,712 1323.6,712 1324.0,704 1324.4,708 1324.8,711 1325.2,714 1325.6,705 1325.9,706 1326.3,702 1326.7,701 1327.1,714 1327.5,709 1327.9,712 1328.3,714 1328.6,709 1329.0,710 1329.4,704 1329.8,706 1330.2,711 1330.6,716 1331.0,714 1331.3,706 1331.7,706 1332.1,713 1332.5,712 1332.9,712 1333.3,711 1333.6,716 1334.0,711 1334.4,717 1334.8,712 1335.2,710 1335.6,704 1336.0,712 1336.3,714 1336.7,711 1337.1,705 1337.5,701" fill="none" stroke="#0000FF" stroke-width="4" stroke-linejoin="round" shape-rendering="crispEdges"/><polyline points="182.5,836 182.9,808 183.3,826 183.7,820 184.0,820 184.4,821 184.8,810 185.2,821 185.6,817 186.0,841 186.3,823 186.7,819 187.1,818 187.5,814 187.9,810 188.3,816 188.7,825 189.0,817 189.4,829 189.8,817 190.2,819 190.6,834 191.0,824 191.4,813 191.7,816 192.1,823 192.5,837 192.9,814 193.3,814 193.7,826 194.0,807 194.4,813 194.8,824 195.2,821 195.6,816 196.0,822 196.4,786 196.7,825 197.1,804 197.5,797 197.9,816 198.3,820 198.7,809 199.1,802 199.4,813 199.8,812 200.2,826 200.6,819 201.0,814 201.4,822 201.7,809 202.1,802 202.5,816 202.9,816 203.3,808 203.7,802 204.1,812 204.4,784 204.8,816 205.2,814 205.6,792 206.0,809 206.4,799 206.8,816 207.1,787 207.5,798 207.9,814 208.3,819 208.7,785 209.1,802 209.4,810 209.8,800 210.2,822 210.6,794 211.0,809 211.4,795 211.8,819 212.1,804 212.5,801 212.9,787 213.3,821 213.7,811 214.1,811 214.5,815 214.8,806 215.2,796 215.6,794 216.0,794 216.4,816 216.8,787 217.1,796 217.5,798 217.9,803 218.3,807 218.7,788 219.1,783 219.5,800 219.8,812 220.2,807 220.6,801 221.0,796 221.4,802 221.8,796 222.2,807 222.5,790 222.9,799 223.3,797 223.7,803 224.1,799 224.5,822 224.8,812 225.2,811 225.6,776 226.0,793 226.4,790 226.8,801 227.2,772 227.5,807 227.9,805 228.3,782 228.7,785 229.1,786 229.5,794 229.9,800 230.2,814 230.6,791 231.0,801 231.4,795 231.8,811 232.2,800 232.5,806 232.9,782 233.3,791 233.7,784 234.1,807 234.5,799 234.9,789 235.2,788 235.6,797 236.0,785 236.4,782 236.8,796 237.2,816 237.6,789 237.9,786 238.3,780 238.7,778 239.1,796 239.5,799 239.9,791 240.2,794 240.6,792 241.0,792 241.4,775 241.8,786 242.2,791 242.6,782 242.9,785 243.3,782 243.7,786 244.1,798 244.5,785 244.9,788 245.3,797 245.6,796 246.0,806 246.4,768 246.8,798 247.2,784 247.6,790 247.9,797 248.3,799 248.7,799 249.1,790 249.5,804 249.9,785 250.3,787 250.6,796 251.0,782 251.4,809 251.8,798 252.2,809 252.6,787 253.0,783 253.3,789 253.7,794 254.1,781 254.5,791 254.9,787 255.3,803 255.6,780 256.0,797 256.4,780 256.8,777 257.2,779 257.6,774 258.0,787 258.3,796 258.7,787 259.1,792 259.5,802 259.9,788 260.3,787 260.7,782 261.0,769 261.4,793 261.8,767 262.2,791 262.6,785 263.0,796 263.3,784 263.7,776 264.1,788 264.5,779 264.9,782 265.3,784 265.7,782 266.0,782 266.4,775 266.8,782 267.2,762 267.6,782 268.0,771 268.4,794 268.7,796 269.1,763 269.5,784 269.9,781 270.3,772 270.7,788 271.0,778 271.4,765 271.8,780 272.2,781 272.6,784 273.0,770 273.4,789 273.7,790 274.1,771 274.5,776 274.9,782 275.3,777 275.7,800 276.1,785 276.4,773 276.8,775 277.2,782 277.6,806 278.0,781 278.4,784 278.7,788 279.1,782 279.5,805 279.9,777 280.3,790 280.7,784 281.1,789 281.4,771 281.8,800 282.2,781 282.6,783 283.0,773 283.4,775 283.8,788 284.1,793 284.5,790 284.9,795 285.3,790 285.7,783 286.1,791 286.4,789 286.8,782 287.2,790 287.6,796 288.0,785 288.4,779 288.8,790 289.1,802 289.5,781 289.9,782 290.3,781 290.7,795 291.1,764 291.5,786 291.8,795 292.2,775 292.6,798 293.0,788 293.4,777 293.8,785 294.1,767 294.5,777 294.9,801 295.3,774 295.7,801 296.1,782 296.5,793 296.8,783 297.2,760 297.6,777 298.0,785 298.4,771 298.8,769 299.2,786 299.5,776 299.9,766 300.3,776 300.7,791 301.1,778 301.5,792 301.8,798 302.2,783 302.6,772 303.0,770 303.4,783 303.8,792 304.2,786 304.5,789 304.9,779 305.3,786 305.7,779 306.1,780 306.5,770 306.9,768 307.2,779 307.6,772 308.0,774 308.4,790 308.8,783 309.2,813 309.5,793 309.9,777 310.3,792 310.7,787 311.1,777 311.5,795 311.9,776 312.2,753 312.6,792 313.0,778 313.4,799 313.8,778 314.2,772 314.6,800 314.9,774 315.3,786 315.7,799 316.1,786 316.5,784 316.9,786 317.2,793 317.6,777 318.0,791 318.4,790 318.8,808 319.2,781 319.6,776 319.9,792 320.3,781 320.7,788 321.1,786 321.5,797 321.9,779 322.3,784 322.6,760 323.0,776 323.4,801 323.8,778 324.2,778 324.6,773 324.9,791 325.3,787 325.7,774 326.1,792 326.5,788 326.9,793 327.3,779 327.6,803 328.0,790 328.4,785 328.8,781 329.2,783 329.6,795 330.0,783 330.3,797 330.7,792 331.1,800 331.5,794 331.9,786 332.3,767 332.6,789 333.0,794 333.4,788 333.8,792 334.2,782 334.6,783 335.0,777 335.3,800 335.7,788 336.1,782 336.5,773 336.9,785 337.3,801 337.7,791 338.0,780 338.4,801 338.8,801 339.2,797 339.6,795 340.0,799 340.3,793 340.7,795 341.1,779 341.5,802 341.9,790 342.3,808 342.7,767 343.0,795 343.4,797 343.8,784 344.2,792 344.6,795 345.0,794 345.4,782 345.7,787 346.1,798 346.5,801 346.9,789 347.3,789 347.7,790 348.0,799 348.4,778 348.8,775 349.2,790 349.6,777 350.0,783 350.4,789 350.7,794 351.1,778 351.5,797 351.9,771 352.3,794 352.7,773 353.1,776 353.4,795 353.8,785 354.2,781 354.6,785 355.0,794 355.4,789 355.7,789 356.1,800 356.5,782 356.9,785 357.3,784 357.7,801 358.1,800 358.4,803 358.8,790 359.2,788 359.6,798 360.0,786 360.4,798 360.8,797 361.1,783 361.5,789 361.9,789 362.3,808 362.7,816 363.1,789 363.4,791 363.8,768 364.2,793 364.6,791 365.0,780 365.4,799 365.8,775 366.1,789 366.5,792 366.9,779 367.3,800 367.7,802 368.1,777 368.5,777 368.8,797 369.2,791 369.6,779 370.0,788 370.4,790 370.8,790 371.1,800 371.5,796 371.9,809 372.3,806 372.7,799 373.1,803 373.5,805 373.8,799 374.2,780 374.6,801 375.0,793 375.4,808 375.8,793 376.2,798 376.5,796 376.9,809 377.3,794 377.7,790 378.1,796 378.5,788 378.8,794 379.2,793 379.6,796 380.0,812 380.4,789 380.8,794 381.2,791 381.5,800 381.9,782 382.3,787 382.7,794 383.1,800 383.5,794 383.9,789 384.2,786 384.6,800 385.0,809 385.4,798 385.8,797 386.2,800 386.5,786 386.9,792 387.3,793 387.7,799 388.1,796 388.5,784 388.9,808 389.2,813 389.6,794 390.0,801 390.4,800 390.8,805 391.2,782 391.6,813 391.9,793 392.3,810 392.7,799 393.1,794 393.5,797 393.9,807 394.2,790 394.6,795 395.0,794 395.4,782 395.8,812 396.2,805 396.6,799 396.9,811 397.3,790 397.7,799 398.1,817 398.5,810 398.9,778 399.3,768 399.6,790 400.0,811 400.4,796 400.8,798 401.2,807 401.6,792 401.9,803 402.3,809 402.7,805 403.1,805 403.5,795 403.9,806 404.3,797 404.6,814 405.0,827 405.4,793 405.8,779 406.2,796 406.6,804 407.0,811 407.3,811 407.7,792 408.1,791 408.5,811 408.9,786 409.3,807 409.6,792 410.0,801 410.4,798 410.8,797 411.2,795 411.6,774 412.0,784 412.3,778 412.7,779 413.1,786 413.5,770 413.9,764 414.3,765 414.7,770 415.0,783 415.4,769 415.8,792 416.2,787 416.6,784 417.0,776 417.3,795 417.7,801 418.1,779 418.5,810 418.9,817 419.3,805 419.7,807 420.0,828 420.4,816 420.8,796 421.2,805 421.6,804 422.0,805 422.4,783 422.7,814 423.1,801 423.5,809 423.9,806 424.3,816 424.7,805 425.0,800 425.4,814 425.8,823 426.2,806 426.6,823 427.0,812 427.4,804 427.7,825 428.1,801 428.5,820 428.9,805 429.3,815 429.7,798 430.1,802 430.4,821 430.8,813 431.2,811 431.6,807 432.0,816 432.4,797 432.7,800 433.1,810 433.5,803 433.9,805 434.3,811 434.7,811 435.1,810 435.4,829 435.8,823 436.2,825 436.6,813 437.0,808 437.4,799 437.8,810 438.1,793 438.5,808 438.9,821 439.3,830 439.7,824 440.1,806 440.4,819 440.8,806 441.2,823 441.6,813 442.0,823 442.4,841 442.8,824 443.1,838 443.5,817 443.9,812 444.3,829 444.7,833 445.1,810 445.5,816 445.8,801 446.2,814 446.6,825 447.0,815 447.4,810 447.8,802 448.1,820 448.5,824 448.9,822 449.3,818 449.7,803 450.1,833 450.5,814 450.8,813 451.2,821 451.6,791 452.0,812 452.4,810 452.8,813 453.2,822 453.5,811 453.9,785 454.3,798 454.7,800 455.1,797 455.5,779 455.8,771 456.2,790 456.6,784 457.0,777 457.4,756 457.8,790 458.2,741 458.5,766 458.9,791 459.3,770 459.7,777 460.1,766 460.5,795 460.9,772 461.2,792 461.6,795 462.0,787 462.4,810 462.8,790 463.2,801 463.5,810 463.9,808 464.3,819 464.7,825 465.1,815 465.5,814 465.9,815 466.2,818 466.6,830 467.0,821 467.4,827 467.8,823 468.2,817 468.6,833 468.9,816 469.3,826 469.7,840 470.1,816 470.5,826 470.9,812 471.2,823 471.6,814 472.0,824 472.4,823 472.8,830 473.2,843 473.6,831 473.9,835 474.3,829 474.7,827 475.1,822 475.5,813 475.9,831 476.3,845 476.6,835 477.0,826 477.4,846 477.8,827 478.2,825 478.6,820 478.9,823 479.3,829 479.7,850 480.1,830 480.5,822 480.9,826 481.3,830 481.6,816 482.0,833 482.4,838 482.8,835 483.2,838 483.6,820 484.0,817 484.3,844 484.7,842 485.1,818 485.5,834 485.9,832 486.3,837 486.6,834 487.0,827 487.4,833 487.8,833 488.2,831 488.6,815 489.0,804 489.3,824 489.7,816 490.1,832 490.5,836 490.9,831 491.3,825 491.7,828 492.0,836 492.4,818 492.8,831 493.2,827 493.6,821 494.0,829 494.3,806 494.7,818 495.1,797 495.5,794 495.9,786 496.3,794 496.7,776 497.0,779 497.4,761 497.8,775 498.2,776 498.6,755 499.0,762 499.4,747 499.7,759 500.1,737 500.5,721 500.9,751 501.3,738 501.7,733 502.0,742 502.4,739 502.8,759 503.2,757 503.6,787 504.0,787 504.4,772 504.7,780 505.1,794 505.5,787 505.9,808 506.3,813 506.7,810 507.1,816 507.4,827 507.8,838 508.2,841 508.6,830 509.0,839 509.4,827 509.7,837 510.1,827 510.5,842 510.9,826 511.3,829 511.7,838 512.1,843 512.4,827 512.8,835 513.2,841 513.6,842 514.0,834 514.4,842 514.8,839 515.1,853 515.5,846 515.9,831 516.3,825 516.7,844 517.1,853 517.4,845 517.8,851 518.2,840 518.6,833 519.0,850 519.4,845 519.8,850 520.1,834 520.5,846 520.9,840 521.3,851 521.7,840 522.1,840 522.5,840 522.8,855 523.2,845 523.6,839 524.0,837 524.4,837 524.8,857 525.1,831 525.5,839 525.9,851 526.3,855 526.7,845 527.1,852 527.5,852 527.8,854 528.2,846 528.6,859 529.0,848 529.4,858 529.8,837 530.2,854 530.5,836 530.9,834 531.3,850 531.7,840 532.1,850 532.5,838 532.8,859 533.2,847 533.6,838 534.0,848 534.4,854 534.8,841 535.2,851 535.5,863 535.9,854 536.3,847 536.7,842 537.1,851 537.5,835 537.9,823 538.2,842 538.6,838 539.0,861 539.4,848 539.8,839 540.2,838 540.5,851 540.9,841 541.3,843 541.7,846 542.1,848 542.5,848 542.9,848 543.2,857 543.6,861 544.0,834 544.4,868 544.8,848 545.2,857 545.6,842 545.9,850 546.3,849 546.7,848 547.1,854 547.5,852 547.9,840 548.2,847 548.6,853 549.0,853 549.4,845 549.8,845 550.2,846 550.6,839 550.9,837 551.3,860 551.7,845 552.1,848 552.5,842 552.9,858 553.3,861 553.6,846 554.0,852 554.4,842 554.8,862 555.2,855 555.6,841 555.9,858 556.3,851 556.7,851 557.1,851 557.5,843 557.9,844 558.3,853 558.6,848 559.0,841 559.4,864 559.8,846 560.2,844 560.6,843 561.0,854 561.3,856 561.7,850 562.1,855 562.5,837 562.9,845 563.3,845 563.6,848 564.0,852 564.4,832 564.8,873 565.2,842 565.6,851 566.0,855 566.3,855 566.7,850 567.1,826 567.5,840 567.9,854 568.3,841 568.7,840 569.0,830 569.4,858 569.8,852 570.2,842 570.6,847 571.0,848 571.3,840 571.7,846 572.1,850 572.5,853 572.9,858 573.3,849 573.7,845 574.0,852 574.4,844 574.8,839 575.2,857 575.6,846 576.0,850 576.4,854 576.7,840 577.1,854 577.5,852 577.9,848 578.3,852 578.7,843 579.0,832 579.4,847 579.8,842 580.2,856 580.6,851 581.0,845 581.4,849 581.7,859 582.1,858 582.5,852 582.9,852 583.3,847 583.7,848 584.1,854 584.4,848 584.8,851 585.2,841 585.6,836 586.0,836 586.4,846 586.7,859 587.1,858 587.5,842 587.9,837 588.3,855 588.7,853 589.1,839 589.4,857 589.8,851 590.2,859 590.6,852 591.0,856 591.4,852 591.8,842 592.1,848 592.5,844 592.9,856 593.3,842 593.7,838 594.1,855 594.4,858 594.8,861 595.2,858 595.6,838 596.0,844 596.4,846 596.8,850 597.1,833 597.5,850 597.9,852 598.3,843 598.7,851 599.1,859 599.5,850 599.8,858 600.2,858 600.6,853 601.0,853 601.4,847 601.8,859 602.1,847 602.5,845 602.9,856 603.3,845 603.7,854 604.1,858 604.5,851 604.8,851 605.2,857 605.6,856 606.0,839 606.4,841 606.8,861 607.2,854 607.5,835 607.9,841 608.3,851 608.7,844 609.1,855 609.5,852 609.8,855 610.2,842 610.6,856 611.0,866 611.4,845 611.8,861 612.2,859 612.5,856 612.9,851 613.3,843 613.7,845 614.1,857 614.5,859 614.9,861 615.2,859 615.6,859 616.0,849 616.4,843 616.8,854 617.2,856 617.5,853 617.9,841 618.3,848 618.7,841 619.1,853 619.5,845 619.9,851 620.2,855 620.6,853 621.0,863 621.4,844 621.8,836 622.2,860 622.6,863 622.9,863 623.3,855 623.7,857 624.1,854 624.5,843 624.9,849 625.2,857 625.6,849 626.0,867 626.4,842 626.8,850 627.2,862 627.6,849 627.9,845 628.3,843 628.7,848 629.1,865 629.5,857 629.9,857 630.3,850 630.6,860 631.0,855 631.4,847 631.8,851 632.2,855 632.6,863 632.9,854 633.3,858 633.7,869 634.1,848 634.5,845 634.9,861 635.3,858 635.6,854 636.0,856 636.4,852 636.8,858 637.2,852 637.6,860 638.0,846 638.3,849 638.7,856 639.1,851 639.5,860 639.9,855 640.3,851 640.6,856 641.0,851 641.4,844 641.8,847 642.2,849 642.6,852 643.0,856 643.3,862 643.7,859 644.1,868 644.5,865 644.9,854 645.3,868 645.7,864 646.0,852 646.4,858 646.8,864 647.2,858 647.6,863 648.0,859 648.3,861 648.7,854 649.1,859 649.5,853 649.9,861 650.3,844 650.7,859 651.0,865 651.4,861 651.8,856 652.2,860 652.6,850 653.0,850 653.4,854 653.7,856 654.1,864 654.5,850 654.9,864 655.3,845 655.7,851 656.0,857 656.4,865 656.8,853 657.2,841 657.6,860 658.0,857 658.4,849 658.7,850 659.1,852 659.5,858 659.9,862 660.3,847 660.7,874 661.1,857 661.4,855 661.8,862 662.2,858 662.6,874 663.0,865 663.4,855 663.7,854 664.1,854 664.5,855 664.9,862 665.3,853 665.7,869 666.1,857 666.4,856 666.8,864 667.2,843 667.6,850 668.0,861 668.4,857 668.8,857 669.1,860 669.5,853 669.9,856 670.3,847 670.7,844 671.1,866 671.4,850 671.8,852 672.2,867 672.6,865 673.0,853 673.4,853 673.8,856 674.1,850 674.5,861 674.9,858 675.3,858 675.7,862 676.1,862 676.5,870 676.8,868 677.2,845 677.6,863 678.0,849 678.4,847 678.8,862 679.1,852 679.5,855 679.9,865 680.3,852 680.7,851 681.1,859 681.5,866 681.8,861 682.2,846 682.6,852 683.0,856 683.4,871 683.8,863 684.2,863 684.5,865 684.9,855 685.3,860 685.7,860 686.1,850 686.5,857 686.8,861 687.2,849 687.6,862 688.0,862 688.4,864 688.8,851 689.2,857 689.5,867 689.9,862 690.3,851 690.7,858 691.1,867 691.5,856 691.9,859 692.2,875 692.6,856 693.0,856 693.4,849 693.8,852 694.2,867 694.5,856 694.9,848 695.3,850 695.7,856 696.1,862 696.5,851 696.9,861 697.2,853 697.6,859 698.0,860 698.4,860 698.8,853 699.2,855 699.6,860 699.9,847 700.3,857 700.7,860 701.1,863 701.5,856 701.9,855 702.2,857 702.6,851 703.0,854 703.4,859 703.8,858 704.2,848 704.6,853 704.9,841 705.3,861 705.7,851 706.1,857 706.5,847 706.9,854 707.3,858 707.6,861 708.0,845 708.4,860 708.8,852 709.2,847 709.6,856 709.9,850 710.3,849 710.7,846 711.1,851 711.5,849 711.9,847 712.3,840 712.6,842 713.0,848 713.4,853 713.8,842 714.2,852 714.6,841 715.0,832 715.3,844 715.7,832 716.1,842 716.5,847 716.9,838 717.3,840 717.6,859 718.0,844 718.4,845 718.8,850 719.2,845 719.6,846 720.0,850 720.3,832 720.7,859 721.1,843 721.5,843 721.9,855 722.3,852 722.7,844 723.0,854 723.4,845 723.8,849 724.2,843 724.6,848 725.0,857 725.3,855 725.7,857 726.1,861 726.5,854 726.9,850 727.3,853 727.7,866 728.0,855 728.4,857 728.8,854 729.2,857 729.6,858 730.0,855 730.4,854 730.7,850 731.1,849 731.5,858 731.9,860 732.3,862 732.7,856 733.0,850 733.4,860 733.8,860 734.2,845 734.6,861 735.0,859 735.4,867 735.7,848 736.1,847 736.5,861 736.9,843 737.3,850 737.7,848 738.1,849 738.4,843 738.8,854 739.2,862 739.6,858 740.0,859 740.4,853 740.7,865 741.1,859 741.5,863 741.9,845 742.3,858 742.7,848 743.1,858 743.4,857 743.8,848 744.2,857 744.6,863 745.0,859 745.4,860 745.8,850 746.1,851 746.5,848 746.9,856 747.3,864 747.7,858 748.1,856 748.4,848 748.8,859 749.2,854 749.6,843 750.0,844 750.4,853 750.8,850 751.1,867 751.5,856 751.9,849 752.3,852 752.7,866 753.1,849 753.5,861 753.8,859 754.2,866 754.6,859 755.0,853 755.4,859 755.8,856 756.1,862 756.5,855 756.9,869 757.3,855 757.7,859 758.1,851 758.5,857 758.8,856 759.2,857 759.6,862 760.0,852 760.4,850 760.8,863 761.2,854 761.5,852 761.9,864 762.3,861 762.7,838 763.1,854 763.5,861 763.8,862 764.2,853 764.6,867 765.0,851 765.4,855 765.8,857 766.2,856 766.5,862 766.9,863 767.3,856 767.7,866 768.1,852 768.5,855 768.9,868 769.2,857 769.6,863 770.0,854 770.4,855 770.8,856 771.2,858 771.5,854 771.9,857 772.3,861 772.7,864 773.1,857 773.5,861 773.9,863 774.2,849 774.6,846 775.0,867 775.4,865 775.8,857 776.2,859 776.6,850 776.9,848 777.3,859 777.7,847 778.1,863 778.5,852 778.9,859 779.2,869 779.6,869 780.0,855 780.4,864 780.8,850 781.2,853 781.6,859 781.9,866 782.3,853 782.7,860 783.1,857 783.5,848 783.9,856 784.3,867 784.6,856 785.0,860 785.4,862 785.8,852 786.2,865 786.6,867 786.9,867 787.3,865 787.7,854 788.1,853 788.5,852 788.9,851 789.3,852 789.6,863 790.0,866 790.4,853 790.8,862 791.2,849 791.6,855 792.0,850 792.3,846 792.7,857 793.1,857 793.5,854 793.9,854 794.3,851 794.6,856 795.0,853 795.4,859 795.8,849 796.2,859 796.6,860 797.0,865 797.3,864 797.7,858 798.1,853 798.5,845 798.9,857 799.3,866 799.7,868 800.0,841 800.4,852 800.8,855 801.2,850 801.6,858 802.0,857 802.3,854 802.7,857 803.1,847 803.5,851 803.9,851 804.3,863 804.7,847 805.0,856 805.4,862 805.8,857 806.2,863 806.6,853 807.0,860 807.4,863 807.7,872 808.1,862 808.5,867 808.9,857 809.3,858 809.7,868 810.0,861 810.4,867 810.8,862 811.2,871 811.6,873 812.0,852 812.4,870 812.7,860 813.1,861 813.5,857 813.9,862 814.3,850 814.7,853 815.1,853 815.4,859 815.8,864 816.2,862 816.6,860 817.0,854 817.4,846 817.7,860 818.1,859 818.5,860 818.9,867 819.3,857 819.7,856 820.1,843 820.4,861 820.8,858 821.2,853 821.6,860 822.0,851 822.4,854 822.8,871 823.1,863 823.5,864 823.9,863 824.3,862 824.7,859 825.1,873 825.4,857 825.8,863 826.2,857 826.6,856 827.0,842 827.4,846 827.8,868 828.1,868 828.5,855 828.9,858 829.3,862 829.7,852 830.1,869 830.5,851 830.8,853 831.2,840 831.6,868 832.0,858 832.4,868 832.8,852 833.1,860 833.5,859 833.9,859 834.3,871 834.7,873 835.1,867 835.5,856 835.8,864 836.2,867 836.6,862 837.0,862 837.4,861 837.8,852 838.2,860 838.5,868 838.9,852 839.3,859 839.7,864 840.1,849 840.5,857 840.8,847 841.2,854 841.6,849 842.0,853 842.4,855 842.8,857 843.2,857 843.5,843 843.9,868 844.3,857 844.7,851 845.1,854 845.5,860 845.9,852 846.2,856 846.6,855 847.0,862 847.4,854 847.8,861 848.2,861 848.5,857 848.9,866 849.3,859 849.7,851 850.1,860 850.5,859 850.9,858 851.2,860 851.6,873 852.0,860 852.4,861 852.8,857 853.2,867 853.6,858 853.9,853 854.3,851 854.7,862 855.1,863 855.5,848 855.9,854 856.2,863 856.6,865 857.0,850 857.4,856 857.8,864 858.2,855 858.6,856 858.9,855 859.3,850 859.7,859 860.1,861 860.5,850 860.9,859 861.3,866 861.6,860 862.0,865 862.4,855 862.8,867 863.2,854 863.6,871 863.9,856 864.3,854 864.7,853 865.1,856 865.5,856 865.9,854 866.3,857 866.6,863 867.0,864 867.4,857 867.8,867 868.2,852 868.6,852 869.0,852 869.3,863 869.7,849 870.1,850 870.5,867 870.9,870 871.3,867 871.6,849 872.0,859 872.4,864 872.8,859 873.2,849 873.6,857 874.0,848 874.3,851 874.7,872 875.1,863 875.5,850 875.9,849 876.3,862 876.7,855 877.0,863 877.4,855 877.8,858 878.2,860 878.6,852 879.0,847 879.3,851 879.7,854 880.1,858 880.5,859 880.9,858 881.3,862 881.7,853 882.0,868 882.4,871 882.8,861 883.2,860 883.6,867 884.0,863 884.4,860 884.7,858 885.1,854 885.5,851 885.9,863 886.3,866 886.7,852 887.0,858 887.4,860 887.8,856 888.2,854 888.6,856 889.0,846 889.4,858 889.7,857 890.1,872 890.5,864 890.9,856 891.3,858 891.7,869 892.1,868 892.4,859 892.8,857 893.2,849 893.6,856 894.0,856 894.4,852 894.7,867 895.1,844 895.5,854 895.9,857 896.3,856 896.7,862 897.1,840 897.4,842 897.8,846 898.2,843 898.6,837 899.0,833 899.4,843 899.8,828 900.1,831 900.5,845 900.9,848 901.3,845 901.7,836 902.1,839 902.4,841 902.8,842 903.2,848 903.6,861 904.0,855 904.4,850 904.8,851 905.1,849 905.5,865 905.9,845 906.3,859 906.7,849 907.1,852 907.5,849 907.8,864 908.2,858 908.6,876 909.0,852 909.4,852 909.8,863 910.1,862 910.5,857 910.9,846 911.3,868 911.7,863 912.1,862 912.5,855 912.8,863 913.2,856 913.6,860 914.0,858 914.4,867 914.8,856 915.2,857 915.5,866 915.9,861 916.3,859 916.7,858 917.1,865 917.5,855 917.8,862 918.2,872 918.6,862 919.0,855 919.4,852 919.8,860 920.2,852 920.5,850 920.9,855 921.3,853 921.7,865 922.1,851 922.5,869 922.9,855 923.2,860 923.6,864 924.0,861 924.4,864 924.8,854 925.2,846 925.5,858 925.9,849 926.3,856 926.7,865 927.1,858 927.5,856 927.9,853 928.2,858 928.6,859 929.0,850 929.4,862 929.8,853 930.2,861 930.6,857 930.9,866 931.3,865 931.7,860 932.1,859 932.5,862 932.9,868 933.2,866 933.6,861 934.0,862 934.4,870 934.8,850 935.2,863 935.6,854 935.9,868 936.3,857 936.7,859 937.1,853 937.5,860 937.9,865 938.3,870 938.6,852 939.0,858 939.4,880 939.8,866 940.2,860 940.6,864 940.9,844 941.3,870 941.7,861 942.1,852 942.5,868 942.9,857 943.3,854 943.6,864 944.0,863 944.4,858 944.8,860 945.2,852 945.6,852 946.0,866 946.3,868 946.7,863 947.1,863 947.5,858 947.9,860 948.3,855 948.6,871 949.0,857 949.4,863 949.8,860 950.2,852 950.6,872 951.0,858 951.3,856 951.7,861 952.1,855 952.5,861 952.9,854 953.3,864 953.7,861 954.0,852 954.4,867 954.8,862 955.2,854 955.6,863 956.0,863 956.3,872 956.7,855 957.1,866 957.5,860 957.9,864 958.3,859 958.7,860 959.0,863 959.4,853 959.8,847 960.2,860 960.6,858 961.0,861 961.4,864 961.7,859 962.1,868 962.5,860 962.9,861 963.3,865 963.7,864 964.0,860 964.4,861 964.8,856 965.2,857 965.6,861 966.0,865 966.4,858 966.7,866 967.1,872 967.5,873 967.9,861 968.3,867 968.7,864 969.1,865 969.4,866 969.8,864 970.2,865 970.6,862 971.0,859 971.4,862 971.7,863 972.1,868 972.5,863 972.9,865 973.3,869 973.7,855 974.1,859 974.4,864 974.8,860 975.2,854 975.6,866 976.0,860 976.4,854 976.8,872 977.1,852 977.5,860 977.9,856 978.3,861 978.7,864 979.1,855 979.4,859 979.8,859 980.2,854 980.6,867 981.0,861 981.4,858 981.8,856 982.1,858 982.5,861 982.9,857 983.3,867 983.7,844 984.1,847 984.5,858 984.8,848 985.2,859 985.6,856 986.0,863 986.4,862 986.8,867 987.1,865 987.5,867 987.9,862 988.3,865 988.7,862 989.1,855 989.5,851 989.8,851 990.2,861 990.6,843 991.0,858 991.4,852 991.8,861 992.2,858 992.5,851 992.9,856 993.3,841 993.7,856 994.1,857 994.5,842 994.8,858 995.2,852 995.6,853 996.0,843 996.4,855 996.8,854 997.2,850 997.5,843 997.9,853 998.3,856 998.7,850 999.1,854 999.5,844 999.9,848 1000.2,849 1000.6,848 1001.0,865 1001.4,850 1001.8,844 1002.2,853 1002.5,841 1002.9,851 1003.3,853 1003.7,846 1004.1,847 1004.5,844 1004.9,850 1005.2,846 1005.6,860 1006.0,854 1006.4,849 1006.8,841 1007.2,862 1007.6,858 1007.9,852 1008.3,851 1008.7,850 1009.1,846 1009.5,860 1009.9,850 1010.2,839 1010.6,844 1011.0,832 1011.4,851 1011.8,852 1012.2,858 1012.6,860 1012.9,842 1013.3,850 1013.7,854 1014.1,853 1014.5,845 1014.9,854 1015.3,852 1015.6,858 1016.0,850 1016.4,849 1016.8,848 1017.2,850 1017.6,848 1017.9,851 1018.3,857 1018.7,857 1019.1,863 1019.5,862 1019.9,860 1020.3,850 1020.6,861 1021.0,865 1021.4,850 1021.8,852 1022.2,853 1022.6,853 1023.0,858 1023.3,854 1023.7,862 1024.1,853 1024.5,860 1024.9,858 1025.3,855 1025.6,867 1026.0,861 1026.4,864 1026.8,859 1027.2,865 1027.6,865 1028.0,861 1028.3,851 1028.7,866 1029.1,866 1029.5,863 1029.9,863 1030.3,863 1030.7,863 1031.0,856 1031.4,862 1031.8,864 1032.2,859 1032.6,857 1033.0,873 1033.3,866 1033.7,861 1034.1,859 1034.5,847 1034.9,854 1035.3,861 1035.7,870 1036.0,851 1036.4,858 1036.8,874 1037.2,867 1037.6,865 1038.0,870 1038.4,862 1038.7,862 1039.1,867 1039.5,868 1039.9,857 1040.3,872 1040.7,853 1041.0,859 1041.4,881 1041.8,860 1042.2,867 1042.6,857 1043.0,861 1043.4,859 1043.7,861 1044.1,867 1044.5,873 1044.9,868 1045.3,872 1045.7,860 1046.1,872 1046.4,867 1046.8,871 1047.2,861 1047.6,862 1048.0,871 1048.4,867 1048.7,864 1049.1,859 1049.5,863 1049.9,866 1050.3,868 1050.7,860 1051.1,861 1051.4,866 1051.8,857 1052.2,869 1052.6,863 1053.0,863 1053.4,849 1053.8,854 1054.1,857 1054.5,860 1054.9,857 1055.3,865 1055.7,864 1056.1,862 1056.4,852 1056.8,871 1057.2,862 1057.6,867 1058.0,859 1058.4,863 1058.8,867 1059.1,865 1059.5,869 1059.9,862 1060.3,875 1060.7,852 1061.1,860 1061.5,869 1061.8,862 1062.2,861 1062.6,853 1063.0,870 1063.4,852 1063.8,866 1064.1,864 1064.5,868 1064.9,871 1065.3,859 1065.7,859 1066.1,861 1066.5,853 1066.8,868 1067.2,861 1067.6,864 1068.0,857 1068.4,863 1068.8,860 1069.2,863 1069.5,857 1069.9,869 1070.3,859 1070.7,849 1071.1,867 1071.5,861 1071.8,858 1072.2,877 1072.6,863 1073.0,855 1073.4,860 1073.8,865 1074.2,862 1074.5,870 1074.9,869 1075.3,859 1075.7,863 1076.1,867 1076.5,861 1076.9,860 1077.2,868 1077.6,866 1078.0,855 1078.4,860 1078.8,861 1079.2,862 1079.5,859 1079.9,871 1080.3,858 1080.7,857 1081.1,864 1081.5,850 1081.9,857 1082.2,867 1082.6,856 1083.0,858 1083.4,869 1083.8,866 1084.2,863 1084.6,864 1084.9,859 1085.3,865 1085.7,862 1086.1,877 1086.5,866 1086.9,861 1087.2,863 1087.6,863 1088.0,855 1088.4,859 1088.8,872 1089.2,855 1089.6,860 1089.9,869 1090.3,872 1090.7,857 1091.1,871 1091.5,861 1091.9,872 1092.3,866 1092.6,862 1093.0,867 1093.4,866 1093.8,859 1094.2,875 1094.6,861 1094.9,870 1095.3,861 1095.7,853 1096.1,857 1096.5,863 1096.9,867 1097.3,873 1097.6,864 1098.0,862 1098.4,856 1098.8,863 1099.2,865 1099.6,851 1100.0,870 1100.3,870 1100.7,876 1101.1,858 1101.5,863 1101.9,863 1102.3,856 1102.6,859 1103.0,858 1103.4,866 1103.8,866 1104.2,871 1104.6,861 1105.0,856 1105.3,866 1105.7,865 1106.1,867 1106.5,870 1106.9,860 1107.3,868 1107.7,858 1108.0,864 1108.4,867 1108.8,863 1109.2,864 1109.6,856 1110.0,860 1110.3,864 1110.7,857 1111.1,859 1111.5,877 1111.9,865 1112.3,859 1112.7,858 1113.0,871 1113.4,848 1113.8,861 1114.2,866 1114.6,860 1115.0,866 1115.4,857 1115.7,863 1116.1,863 1116.5,863 1116.9,864 1117.3,863 1117.7,869 1118.0,861 1118.4,859 1118.8,861 1119.2,861 1119.6,854 1120.0,852 1120.4,855 1120.7,864 1121.1,859 1121.5,861 1121.9,879 1122.3,869 1122.7,862 1123.1,860 1123.4,871 1123.8,859 1124.2,870 1124.6,866 1125.0,871 1125.4,859 1125.7,868 1126.1,854 1126.5,863 1126.9,869 1127.3,867 1127.7,854 1128.1,868 1128.4,866 1128.8,864 1129.2,860 1129.6,862 1130.0,861 1130.4,869 1130.8,867 1131.1,870 1131.5,868 1131.9,857 1132.3,865 1132.7,876 1133.1,859 1133.4,866 1133.8,860 1134.2,860 1134.6,866 1135.0,870 1135.4,869 1135.8,867 1136.1,870 1136.5,856 1136.9,869 1137.3,867 1137.7,864 1138.1,865 1138.5,861 1138.8,872 1139.2,861 1139.6,858 1140.0,865 1140.4,862 1140.8,865 1141.1,874 1141.5,865 1141.9,866 1142.3,878 1142.7,858 1143.1,868 1143.5,872 1143.8,874 1144.2,878 1144.6,863 1145.0,870 1145.4,866 1145.8,864 1146.2,863 1146.5,859 1146.9,868 1147.3,871 1147.7,861 1148.1,871 1148.5,864 1148.8,861 1149.2,853 1149.6,873 1150.0,871 1150.4,865 1150.8,865 1151.2,860 1151.5,870 1151.9,867 1152.3,870 1152.7,868 1153.1,860 1153.5,859 1153.9,870 1154.2,859 1154.6,869 1155.0,873 1155.4,861 1155.8,872 1156.2,868 1156.5,871 1156.9,865 1157.3,868 1157.7,871 1158.1,878 1158.5,872 1158.9,871 1159.2,862 1159.6,871 1160.0,865 1160.4,869 1160.8,870 1161.2,874 1161.6,872 1161.9,870 1162.3,869 1162.7,877 1163.1,865 1163.5,870 1163.9,877 1164.2,869 1164.6,874 1165.0,874 1165.4,880 1165.8,876 1166.2,861 1166.6,870 1166.9,872 1167.3,874 1167.7,872 1168.1,880 1168.5,876 1168.9,864 1169.3,867 1169.6,859 1170.0,880 1170.4,870 1170.8,870 1171.2,862 1171.6,868 1171.9,873 1172.3,868 1172.7,868 1173.1,867 1173.5,881 1173.9,868 1174.3,863 1174.6,868 1175.0,869 1175.4,870 1175.8,869 1176.2,865 1176.6,870 1177.0,873 1177.3,863 1177.7,881 1178.1,880 1178.5,861 1178.9,869 1179.3,876 1179.6,878 1180.0,881 1180.4,861 1180.8,865 1181.2,869 1181.6,874 1182.0,866 1182.3,874 1182.7,874 1183.1,875 1183.5,865 1183.9,873 1184.3,872 1184.7,870 1185.0,879 1185.4,871 1185.8,880 1186.2,869 1186.6,881 1187.0,881 1187.3,868 1187.7,874 1188.1,874 1188.5,868 1188.9,877 1189.3,876 1189.7,868 1190.0,874 1190.4,878 1190.8,872 1191.2,869 1191.6,882 1192.0,868 1192.4,875 1192.7,880 1193.1,878 1193.5,864 1193.9,872 1194.3,873 1194.7,873 1195.0,877 1195.4,877 1195.8,875 1196.2,876 1196.6,880 1197.0,881 1197.4,864 1197.7,886 1198.1,872 1198.5,879 1198.9,866 1199.3,872 1199.7,868 1200.1,881 1200.4,880 1200.8,875 1201.2,874 1201.6,877 1202.0,870 1202.4,872 1202.7,871 1203.1,879 1203.5,875 1203.9,868 1204.3,877 1204.7,878 1205.1,883 1205.4,872 1205.8,877 1206.2,886 1206.6,874 1207.0,873 1207.4,878 1207.8,873 1208.1,875 1208.5,873 1208.9,871 1209.3,880 1209.7,873 1210.1,870 1210.4,874 1210.8,875 1211.2,877 1211.6,880 1212.0,885 1212.4,869 1212.8,874 1213.1,866 1213.5,877 1213.9,878 1214.3,872 1214.7,871 1215.1,870 1215.5,868 1215.8,879 1216.2,885 1216.6,869 1217.0,884 1217.4,875 1217.8,868 1218.1,878 1218.5,879 1218.9,877 1219.3,874 1219.7,884 1220.1,874 1220.5,879 1220.8,879 1221.2,871 1221.6,866 1222.0,866 1222.4,873 1222.8,877 1223.2,866 1223.5,872 1223.9,884 1224.3,866 1224.7,878 1225.1,877 1225.5,880 1225.8,868 1226.2,877 1226.6,868 1227.0,883 1227.4,871 1227.8,878 1228.2,871 1228.5,876 1228.9,868 1229.3,877 1229.7,879 1230.1,876 1230.5,884 1230.9,878 1231.2,880 1231.6,878 1232.0,886 1232.4,872 1232.8,874 1233.2,875 1233.5,879 1233.9,877 1234.3,880 1234.7,877 1235.1,873 1235.5,876 1235.9,878 1236.2,864 1236.6,883 1237.0,873 1237.4,874 1237.8,877 1238.2,875 1238.6,868 1238.9,875 1239.3,883 1239.7,882 1240.1,883 1240.5,873 1240.9,875 1241.2,882 1241.6,884 1242.0,876 1242.4,871 1242.8,866 1243.2,884 1243.6,868 1243.9,879 1244.3,881 1244.7,893 1245.1,878 1245.5,876 1245.9,879 1246.3,879 1246.6,884 1247.0,880 1247.4,873 1247.8,866 1248.2,878 1248.6,873 1248.9,884 1249.3,870 1249.7,878 1250.1,873 1250.5,872 1250.9,886 1251.3,878 1251.6,876 1252.0,881 1252.4,873 1252.8,875 1253.2,874 1253.6,887 1254.0,879 1254.3,880 1254.7,883 1255.1,876 1255.5,876 1255.9,868 1256.3,880 1256.6,878 1257.0,875 1257.4,883 1257.8,868 1258.2,879 1258.6,870 1259.0,871 1259.3,876 1259.7,884 1260.1,871 1260.5,872 1260.9,871 1261.3,888 1261.7,880 1262.0,879 1262.4,888 1262.8,879 1263.2,866 1263.6,875 1264.0,871 1264.3,888 1264.7,870 1265.1,879 1265.5,875 1265.9,875 1266.3,877 1266.7,877 1267.0,874 1267.4,871 1267.8,874 1268.2,872 1268.6,873 1269.0,878 1269.4,877 1269.7,880 1270.1,876 1270.5,888 1270.9,874 1271.3,872 1271.7,883 1272.0,874 1272.4,878 1272.8,883 1273.2,877 1273.6,876 1274.0,883 1274.4,879 1274.7,875 1275.1,871 1275.5,876 1275.9,869 1276.3,873 1276.7,872 1277.1,879 1277.4,882 1277.8,874 1278.2,875 1278.6,872 1279.0,870 1279.4,875 1279.7,881 1280.1,880 1280.5,881 1280.9,876 1281.3,863 1281.7,883 1282.1,885 1282.4,883 1282.8,883 1283.2,884 1283.6,892 1284.0,880 1284.4,886 1284.8,882 1285.1,882 1285.5,877 1285.9,876 1286.3,872 1286.7,881 1287.1,877 1287.4,872 1287.8,874 1288.2,872 1288.6,887 1289.0,877 1289.4,879 1289.8,872 1290.1,873 1290.5,884 1290.9,877 1291.3,880 1291.7,888 1292.1,890 1292.5,882 1292.8,881 1293.2,880 1293.6,877 1294.0,889 1294.4,872 1294.8,878 1295.1,869 1295.5,872 1295.9,881 1296.3,881 1296.7,881 1297.1,877 1297.5,875 1297.8,876 1298.2,877 1298.6,885 1299.0,887 1299.4,881 1299.8,876 1300.2,874 1300.5,881 1300.9,878 1301.3,869 1301.7,886 1302.1,879 1302.5,877 1302.8,874 1303.2,874 1303.6,884 1304.0,874 1304.4,880 1304.8,883 1305.2,889 1305.5,882 1305.9,879 1306.3,877 1306.7,884 1307.1,885 1307.5,877 1307.9,882 1308.2,879 1308.6,871 1309.0,874 1309.4,884 1309.8,887 1310.2,883 1310.5,878 1310.9,876 1311.3,882 1311.7,881 1312.1,871 1312.5,883 1312.9,876 1313.2,883 1313.6,882 1314.0,883 1314.4,885 1314.8,883 1315.2,874 1315.6,874 1315.9,885 1316.3,882 1316.7,872 1317.1,869 1317.5,885 1317.9,891 1318.2,884 1318.6,879 1319.0,881 1319.4,866 1319.8,875 1320.2,885 1320.6,885 1320.9,869 1321.3,886 1321.7,883 1322.1,885 1322.5,879 1322.9,880 1323.3,875 1323.6,882 1324.0,885 1324.4,875 1324.8,882 1325.2,877 1325.6,886 1325.9,885 1326.3,868 1326.7,883 1327.1,886 1327.5,877 1327.9,879 1328.3,880 1328.6,874 1329.0,880 1329.4,889 1329.8,883 1330.2,888 1330.6,886 1331.0,887 1331.3,881 1331.7,885 1332.1,891 1332.5,888 1332.9,882 1333.3,877 1333.6,876 1334.0,882 1334.4,883 1334.8,871 1335.2,882 1335.6,883 1336.0,882 1336.3,878 1336.7,893 1337.1,885 1337.5,874" fill="none" stroke="#FF0000" stroke-width="4" stroke-linejoin="round" shape-rendering="crispEdges"/><circle cx="415" cy="236" r="10" fill="#000"/><circle cx="460" cy="212" r="10" fill="#000"/><circle cx="502" cy="186" r="10" fill="#000"/><circle cx="718" cy="286.6" r="10" fill="#000"/><circle cx="902" cy="303" r="10" fill="#000"/><circle cx="1006" cy="275" r="10" fill="#000"/><circle cx="1113" cy="317" r="10" fill="#000"/><circle cx="1146" cy="665" r="10" fill="#000"/><g transform="translate(506,138) scale(1.0)" fill="#000"><ellipse cx="0" cy="6.5" rx="6.8" ry="6.5"/><circle cx="-9.3" cy="19.6" r="6.8"/><circle cx="9.5" cy="19.6" r="6.8"/><rect x="-4.5" y="15" width="9" height="7.5"/><rect x="-2.8" y="10" width="5.6" height="6"/><path d="M-1.5,15 L1.5,15 L1.5,28 L3.8,30.2 L3.8,31 L-3.8,31 L-3.8,30.2 L-1.5,28Z"/></g><g transform="translate(628.5,249) scale(1.0)" fill="#000"><ellipse cx="0" cy="6.5" rx="6.8" ry="6.5"/><circle cx="-9.3" cy="19.6" r="6.8"/><circle cx="9.5" cy="19.6" r="6.8"/><rect x="-4.5" y="15" width="9" height="7.5"/><rect x="-2.8" y="10" width="5.6" height="6"/><path d="M-1.5,15 L1.5,15 L1.5,28 L3.8,30.2 L3.8,31 L-3.8,31 L-3.8,30.2 L-1.5,28Z"/></g><g transform="translate(994,285) scale(1.0)" fill="#000"><ellipse cx="0" cy="6.5" rx="6.8" ry="6.5"/><circle cx="-9.3" cy="19.6" r="6.8"/><circle cx="9.5" cy="19.6" r="6.8"/><rect x="-4.5" y="15" width="9" height="7.5"/><rect x="-2.8" y="10" width="5.6" height="6"/><path d="M-1.5,15 L1.5,15 L1.5,28 L3.8,30.2 L3.8,31 L-3.8,31 L-3.8,30.2 L-1.5,28Z"/></g><g transform="translate(1313,661) scale(1.0)" fill="#000"><ellipse cx="0" cy="6.5" rx="6.8" ry="6.5"/><circle cx="-9.3" cy="19.6" r="6.8"/><circle cx="9.5" cy="19.6" r="6.8"/><rect x="-4.5" y="15" width="9" height="7.5"/><rect x="-2.8" y="10" width="5.6" height="6"/><path d="M-1.5,15 L1.5,15 L1.5,28 L3.8,30.2 L3.8,31 L-3.8,31 L-3.8,30.2 L-1.5,28Z"/></g><circle cx="978" cy="100.8" r="10" fill="#000"/><text x="1006" y="117" font-family="Liberation Serif" font-weight="bold" font-size="61">Mg</text><g transform="translate(1150,89) scale(1.0)" fill="#000"><ellipse cx="0" cy="6.5" rx="6.8" ry="6.5"/><circle cx="-9.3" cy="19.6" r="6.8"/><circle cx="9.5" cy="19.6" r="6.8"/><rect x="-4.5" y="15" width="9" height="7.5"/><rect x="-2.8" y="10" width="5.6" height="6"/><path d="M-1.5,15 L1.5,15 L1.5,28 L3.8,30.2 L3.8,31 L-3.8,31 L-3.8,30.2 L-1.5,28Z"/></g><text x="1187" y="118.5" font-family="Liberation Serif" font-weight="bold" font-size="61">MgO</text><text transform="translate(168.5,971) scale(1,1.05)" font-family="Liberation Serif" font-weight="bold" font-size="71" text-anchor="middle">20</text><text transform="translate(361.0,971) scale(1,1.05)" font-family="Liberation Serif" font-weight="bold" font-size="71" text-anchor="middle">30</text><text transform="translate(553.5,971) scale(1,1.05)" font-family="Liberation Serif" font-weight="bold" font-size="71" text-anchor="middle">40</text><text transform="translate(746.0,971) scale(1,1.05)" font-family="Liberation Serif" font-weight="bold" font-size="71" text-anchor="middle">50</text><text transform="translate(938.5,971) scale(1,1.05)" font-family="Liberation Serif" font-weight="bold" font-size="71" text-anchor="middle">60</text><text transform="translate(1131.0,971) scale(1,1.05)" font-family="Liberation Serif" font-weight="bold" font-size="71" text-anchor="middle">70</text><text transform="translate(1323.5,971) scale(1,1.05)" font-family="Liberation Serif" font-weight="bold" font-size="71" text-anchor="middle">80</text><text x="647" y="1054" font-family="Liberation Serif" font-weight="bold" font-size="82">2</text><text x="687.8" y="1055.9" font-family="Liberation Serif" font-weight="bold" font-size="78">θ</text><text x="745.2" y="1054" font-family="Liberation Serif" font-weight="bold" font-size="76">(</text><text x="770.5" y="1054.5" font-family="Liberation Serif" font-weight="bold" font-size="81">°</text><text x="800" y="1054" font-family="Liberation Serif" font-weight="bold" font-size="76">)</text><text transform="translate(78,542) rotate(-90)" font-family="Liberation Serif" font-weight="bold" font-size="81" text-anchor="middle">Intensity (a.u.)</text></svg></body></html>
